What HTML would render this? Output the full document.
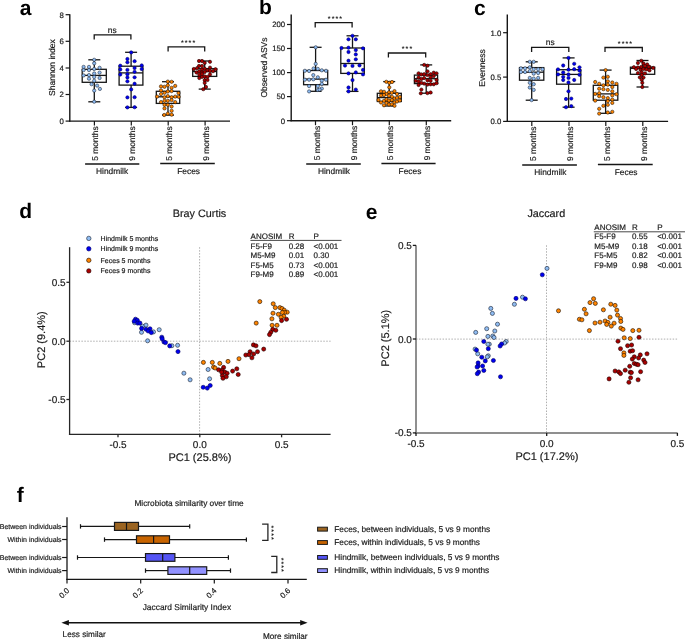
<!DOCTYPE html>
<html><head><meta charset="utf-8"><style>
html,body{margin:0;padding:0;background:#fff;}
body{width:685px;height:639px;overflow:hidden;}
svg{display:block;font-family:"Liberation Sans",sans-serif;will-change:transform;text-rendering:geometricPrecision;}
text{stroke:#1a1a1a;stroke-width:0.18px;stroke-linejoin:bevel;}
</style></head><body>
<svg width="685" height="639" viewBox="0 0 685 639">
<rect width="685" height="639" fill="#fff"/>
<line x1="69.8" y1="14.3" x2="69.8" y2="121.75" stroke="#161616" stroke-width="1.4" />
<line x1="69.15" y1="121.1" x2="230" y2="121.1" stroke="#161616" stroke-width="1.4" />
<line x1="65.6" y1="14.7" x2="69.8" y2="14.7" stroke="#161616" stroke-width="1.2" />
<text x="63.8" y="17.5" font-size="7.8" text-anchor="end" font-weight="normal" fill="#1a1a1a" >8</text>
<line x1="65.6" y1="41.3" x2="69.8" y2="41.3" stroke="#161616" stroke-width="1.2" />
<text x="63.8" y="44.1" font-size="7.8" text-anchor="end" font-weight="normal" fill="#1a1a1a" >6</text>
<line x1="65.6" y1="68" x2="69.8" y2="68" stroke="#161616" stroke-width="1.2" />
<text x="63.8" y="70.8" font-size="7.8" text-anchor="end" font-weight="normal" fill="#1a1a1a" >4</text>
<line x1="65.6" y1="94.5" x2="69.8" y2="94.5" stroke="#161616" stroke-width="1.2" />
<text x="63.8" y="97.3" font-size="7.8" text-anchor="end" font-weight="normal" fill="#1a1a1a" >2</text>
<line x1="65.6" y1="121.1" x2="69.8" y2="121.1" stroke="#161616" stroke-width="1.2" />
<text x="63.8" y="123.9" font-size="7.8" text-anchor="end" font-weight="normal" fill="#1a1a1a" >0</text>
<line x1="94.4" y1="121.1" x2="94.4" y2="125.6" stroke="#161616" stroke-width="1.2" />
<text x="98.5" y="126.3" font-size="8.4" text-anchor="end" font-weight="normal" fill="#1a1a1a" transform="rotate(-90 98.5 126.3)" >5 months</text>
<line x1="131.3" y1="121.1" x2="131.3" y2="125.6" stroke="#161616" stroke-width="1.2" />
<text x="135.4" y="126.3" font-size="8.4" text-anchor="end" font-weight="normal" fill="#1a1a1a" transform="rotate(-90 135.4 126.3)" >9 months</text>
<line x1="168.2" y1="121.1" x2="168.2" y2="125.6" stroke="#161616" stroke-width="1.2" />
<text x="172.3" y="126.3" font-size="8.4" text-anchor="end" font-weight="normal" fill="#1a1a1a" transform="rotate(-90 172.3 126.3)" >5 months</text>
<line x1="205.1" y1="121.1" x2="205.1" y2="125.6" stroke="#161616" stroke-width="1.2" />
<text x="209.2" y="126.3" font-size="8.4" text-anchor="end" font-weight="normal" fill="#1a1a1a" transform="rotate(-90 209.2 126.3)" >9 months</text>
<text x="54.6" y="67.6" font-size="8.5" text-anchor="middle" font-weight="normal" fill="#1a1a1a" transform="rotate(-90 54.6 67.6)" >Shannon index</text>
<line x1="85.1" y1="164.0" x2="139.3" y2="164.0" stroke="#161616" stroke-width="1.4" />
<text x="112.1" y="174.2" font-size="8.4" text-anchor="middle" font-weight="normal" fill="#1a1a1a" >Hindmilk</text>
<line x1="160.2" y1="163.5" x2="214.8" y2="163.5" stroke="#161616" stroke-width="1.4" />
<text x="188.6" y="174.2" font-size="8.4" text-anchor="middle" font-weight="normal" fill="#1a1a1a" >Feces</text>
<path d="M94.2 39.6 V34.8 H130.9 V39.6" fill="none" stroke="#161616" stroke-width="1.3"/>
<text x="112.2" y="32.5" font-size="8.4" text-anchor="middle" font-weight="normal" fill="#1a1a1a" >ns</text>
<path d="M168.1 51.5 V46.8 H204.7 V51.5" fill="none" stroke="#161616" stroke-width="1.3"/>
<text x="188.6" y="45.05" font-size="7" text-anchor="middle" font-weight="bold" fill="#1a1a1a" letter-spacing="1.1" style="stroke:none">****</text>
<line x1="94.3" y1="59.8" x2="94.3" y2="69.3" stroke="#161616" stroke-width="1.3" />
<line x1="94.3" y1="82.3" x2="94.3" y2="101.8" stroke="#161616" stroke-width="1.3" />
<line x1="88.3" y1="59.8" x2="100.3" y2="59.8" stroke="#161616" stroke-width="1.3" />
<line x1="88.3" y1="101.8" x2="100.3" y2="101.8" stroke="#161616" stroke-width="1.3" />
<rect x="82.2" y="69.3" width="24.1" height="13.0" fill="none" stroke="#161616" stroke-width="1.3"/>
<line x1="82.2" y1="75.4" x2="106.3" y2="75.4" stroke="#161616" stroke-width="1.3" />
<circle cx="94.2" cy="59.8" r="1.65" fill="#8fbcf2" stroke="#1a2233" stroke-width="0.55"/>
<circle cx="94.2" cy="63.3" r="1.65" fill="#8fbcf2" stroke="#1a2233" stroke-width="0.55"/>
<circle cx="83.6" cy="66.9" r="1.65" fill="#8fbcf2" stroke="#1a2233" stroke-width="0.55"/>
<circle cx="89" cy="66.9" r="1.65" fill="#8fbcf2" stroke="#1a2233" stroke-width="0.55"/>
<circle cx="99.6" cy="67.8" r="1.65" fill="#8fbcf2" stroke="#1a2233" stroke-width="0.55"/>
<circle cx="83.6" cy="70.1" r="1.65" fill="#8fbcf2" stroke="#1a2233" stroke-width="0.55"/>
<circle cx="89" cy="70.1" r="1.65" fill="#8fbcf2" stroke="#1a2233" stroke-width="0.55"/>
<circle cx="94.2" cy="69" r="1.65" fill="#8fbcf2" stroke="#1a2233" stroke-width="0.55"/>
<circle cx="99.6" cy="72.6" r="1.65" fill="#8fbcf2" stroke="#1a2233" stroke-width="0.55"/>
<circle cx="83.6" cy="75.4" r="1.65" fill="#8fbcf2" stroke="#1a2233" stroke-width="0.55"/>
<circle cx="89" cy="75.1" r="1.65" fill="#8fbcf2" stroke="#1a2233" stroke-width="0.55"/>
<circle cx="94.2" cy="73.5" r="1.65" fill="#8fbcf2" stroke="#1a2233" stroke-width="0.55"/>
<circle cx="94.2" cy="77" r="1.65" fill="#8fbcf2" stroke="#1a2233" stroke-width="0.55"/>
<circle cx="99.6" cy="78" r="1.65" fill="#8fbcf2" stroke="#1a2233" stroke-width="0.55"/>
<circle cx="89" cy="78.7" r="1.65" fill="#8fbcf2" stroke="#1a2233" stroke-width="0.55"/>
<circle cx="94.2" cy="80.8" r="1.65" fill="#8fbcf2" stroke="#1a2233" stroke-width="0.55"/>
<circle cx="91.6" cy="84.2" r="1.65" fill="#8fbcf2" stroke="#1a2233" stroke-width="0.55"/>
<circle cx="97.1" cy="85.6" r="1.65" fill="#8fbcf2" stroke="#1a2233" stroke-width="0.55"/>
<circle cx="99.9" cy="88.9" r="1.65" fill="#8fbcf2" stroke="#1a2233" stroke-width="0.55"/>
<circle cx="94.2" cy="90.6" r="1.65" fill="#8fbcf2" stroke="#1a2233" stroke-width="0.55"/>
<circle cx="94.2" cy="101.7" r="1.65" fill="#8fbcf2" stroke="#1a2233" stroke-width="0.55"/>
<line x1="131.1" y1="52.3" x2="131.1" y2="66.2" stroke="#161616" stroke-width="1.3" />
<line x1="131.1" y1="85.1" x2="131.1" y2="107.4" stroke="#161616" stroke-width="1.3" />
<line x1="125.1" y1="52.3" x2="137.1" y2="52.3" stroke="#161616" stroke-width="1.3" />
<line x1="125.1" y1="107.4" x2="137.1" y2="107.4" stroke="#161616" stroke-width="1.3" />
<rect x="119.1" y="66.2" width="23.8" height="18.9" fill="none" stroke="#161616" stroke-width="1.3"/>
<line x1="119.1" y1="72.9" x2="142.9" y2="72.9" stroke="#161616" stroke-width="1.3" />
<circle cx="131.2" cy="52.4" r="1.65" fill="#0000f0" stroke="#000060" stroke-width="0.55"/>
<circle cx="127.4" cy="59" r="1.65" fill="#0000f0" stroke="#000060" stroke-width="0.55"/>
<circle cx="127.4" cy="62.3" r="1.65" fill="#0000f0" stroke="#000060" stroke-width="0.55"/>
<circle cx="134.6" cy="61.2" r="1.65" fill="#0000f0" stroke="#000060" stroke-width="0.55"/>
<circle cx="120.3" cy="65.7" r="1.65" fill="#0000f0" stroke="#000060" stroke-width="0.55"/>
<circle cx="141.7" cy="65.4" r="1.65" fill="#0000f0" stroke="#000060" stroke-width="0.55"/>
<circle cx="120.3" cy="69.5" r="1.65" fill="#0000f0" stroke="#000060" stroke-width="0.55"/>
<circle cx="127.4" cy="69.9" r="1.65" fill="#0000f0" stroke="#000060" stroke-width="0.55"/>
<circle cx="134.6" cy="68" r="1.65" fill="#0000f0" stroke="#000060" stroke-width="0.55"/>
<circle cx="141.7" cy="69" r="1.65" fill="#0000f0" stroke="#000060" stroke-width="0.55"/>
<circle cx="134.6" cy="71.8" r="1.65" fill="#0000f0" stroke="#000060" stroke-width="0.55"/>
<circle cx="120.3" cy="74.5" r="1.65" fill="#0000f0" stroke="#000060" stroke-width="0.55"/>
<circle cx="127.4" cy="74.2" r="1.65" fill="#0000f0" stroke="#000060" stroke-width="0.55"/>
<circle cx="127.4" cy="77.5" r="1.65" fill="#0000f0" stroke="#000060" stroke-width="0.55"/>
<circle cx="134.6" cy="77.3" r="1.65" fill="#0000f0" stroke="#000060" stroke-width="0.55"/>
<circle cx="127.4" cy="81.3" r="1.65" fill="#0000f0" stroke="#000060" stroke-width="0.55"/>
<circle cx="134.6" cy="83.7" r="1.65" fill="#0000f0" stroke="#000060" stroke-width="0.55"/>
<circle cx="131.2" cy="89.4" r="1.65" fill="#0000f0" stroke="#000060" stroke-width="0.55"/>
<circle cx="127.4" cy="97.4" r="1.65" fill="#0000f0" stroke="#000060" stroke-width="0.55"/>
<circle cx="134.6" cy="97.2" r="1.65" fill="#0000f0" stroke="#000060" stroke-width="0.55"/>
<circle cx="127.4" cy="107.4" r="1.65" fill="#0000f0" stroke="#000060" stroke-width="0.55"/>
<circle cx="134.6" cy="107.2" r="1.65" fill="#0000f0" stroke="#000060" stroke-width="0.55"/>
<line x1="168" y1="81.7" x2="168" y2="91.3" stroke="#161616" stroke-width="1.3" />
<line x1="168" y1="103.4" x2="168" y2="115.1" stroke="#161616" stroke-width="1.3" />
<line x1="162" y1="81.7" x2="174" y2="81.7" stroke="#161616" stroke-width="1.3" />
<line x1="162" y1="115.1" x2="174" y2="115.1" stroke="#161616" stroke-width="1.3" />
<rect x="156.3" y="91.3" width="23.4" height="12.1" fill="none" stroke="#161616" stroke-width="1.3"/>
<line x1="156.3" y1="96.8" x2="179.7" y2="96.8" stroke="#161616" stroke-width="1.3" />
<circle cx="167.8" cy="81.6" r="1.65" fill="#ff8400" stroke="#1a0c00" stroke-width="0.55"/>
<circle cx="171.6" cy="81.8" r="1.65" fill="#ff8400" stroke="#1a0c00" stroke-width="0.55"/>
<circle cx="161" cy="86.4" r="1.65" fill="#ff8400" stroke="#1a0c00" stroke-width="0.55"/>
<circle cx="164.5" cy="86.8" r="1.65" fill="#ff8400" stroke="#1a0c00" stroke-width="0.55"/>
<circle cx="167.8" cy="85.3" r="1.65" fill="#ff8400" stroke="#1a0c00" stroke-width="0.55"/>
<circle cx="175.2" cy="85.9" r="1.65" fill="#ff8400" stroke="#1a0c00" stroke-width="0.55"/>
<circle cx="171.6" cy="87.8" r="1.65" fill="#ff8400" stroke="#1a0c00" stroke-width="0.55"/>
<circle cx="161" cy="90.4" r="1.65" fill="#ff8400" stroke="#1a0c00" stroke-width="0.55"/>
<circle cx="167.8" cy="91.5" r="1.65" fill="#ff8400" stroke="#1a0c00" stroke-width="0.55"/>
<circle cx="171.6" cy="91.1" r="1.65" fill="#ff8400" stroke="#1a0c00" stroke-width="0.55"/>
<circle cx="161" cy="94.1" r="1.65" fill="#ff8400" stroke="#1a0c00" stroke-width="0.55"/>
<circle cx="164.5" cy="92.8" r="1.65" fill="#ff8400" stroke="#1a0c00" stroke-width="0.55"/>
<circle cx="178.5" cy="93.1" r="1.65" fill="#ff8400" stroke="#1a0c00" stroke-width="0.55"/>
<circle cx="157.1" cy="96.6" r="1.65" fill="#ff8400" stroke="#1a0c00" stroke-width="0.55"/>
<circle cx="164.5" cy="97.2" r="1.65" fill="#ff8400" stroke="#1a0c00" stroke-width="0.55"/>
<circle cx="167.8" cy="96.1" r="1.65" fill="#ff8400" stroke="#1a0c00" stroke-width="0.55"/>
<circle cx="171.6" cy="97.2" r="1.65" fill="#ff8400" stroke="#1a0c00" stroke-width="0.55"/>
<circle cx="175.2" cy="96.6" r="1.65" fill="#ff8400" stroke="#1a0c00" stroke-width="0.55"/>
<circle cx="178.7" cy="96.8" r="1.65" fill="#ff8400" stroke="#1a0c00" stroke-width="0.55"/>
<circle cx="161" cy="102.1" r="1.65" fill="#ff8400" stroke="#1a0c00" stroke-width="0.55"/>
<circle cx="164.5" cy="100.8" r="1.65" fill="#ff8400" stroke="#1a0c00" stroke-width="0.55"/>
<circle cx="167.8" cy="100.8" r="1.65" fill="#ff8400" stroke="#1a0c00" stroke-width="0.55"/>
<circle cx="171.6" cy="100.1" r="1.65" fill="#ff8400" stroke="#1a0c00" stroke-width="0.55"/>
<circle cx="175.2" cy="102.1" r="1.65" fill="#ff8400" stroke="#1a0c00" stroke-width="0.55"/>
<circle cx="164.5" cy="104.8" r="1.65" fill="#ff8400" stroke="#1a0c00" stroke-width="0.55"/>
<circle cx="167.8" cy="104.8" r="1.65" fill="#ff8400" stroke="#1a0c00" stroke-width="0.55"/>
<circle cx="171.6" cy="106.5" r="1.65" fill="#ff8400" stroke="#1a0c00" stroke-width="0.55"/>
<circle cx="164.5" cy="108.4" r="1.65" fill="#ff8400" stroke="#1a0c00" stroke-width="0.55"/>
<circle cx="171.6" cy="110.8" r="1.65" fill="#ff8400" stroke="#1a0c00" stroke-width="0.55"/>
<circle cx="164.2" cy="115" r="1.65" fill="#ff8400" stroke="#1a0c00" stroke-width="0.55"/>
<circle cx="167.8" cy="113.6" r="1.65" fill="#ff8400" stroke="#1a0c00" stroke-width="0.55"/>
<circle cx="171.6" cy="114.7" r="1.65" fill="#ff8400" stroke="#1a0c00" stroke-width="0.55"/>
<line x1="204.7" y1="61" x2="204.7" y2="68.7" stroke="#161616" stroke-width="1.3" />
<line x1="204.7" y1="76.4" x2="204.7" y2="89.1" stroke="#161616" stroke-width="1.3" />
<line x1="198.7" y1="61" x2="210.7" y2="61" stroke="#161616" stroke-width="1.3" />
<line x1="198.7" y1="89.1" x2="210.7" y2="89.1" stroke="#161616" stroke-width="1.3" />
<rect x="192.7" y="68.7" width="24.0" height="7.7" fill="none" stroke="#161616" stroke-width="1.3"/>
<line x1="192.7" y1="71.5" x2="216.7" y2="71.5" stroke="#161616" stroke-width="1.3" />
<circle cx="199" cy="61" r="1.65" fill="#aa0000" stroke="#1a0000" stroke-width="0.55"/>
<circle cx="202" cy="61" r="1.65" fill="#aa0000" stroke="#1a0000" stroke-width="0.55"/>
<circle cx="204.7" cy="62.9" r="1.65" fill="#aa0000" stroke="#1a0000" stroke-width="0.55"/>
<circle cx="210" cy="61.8" r="1.65" fill="#aa0000" stroke="#1a0000" stroke-width="0.55"/>
<circle cx="199" cy="66" r="1.65" fill="#aa0000" stroke="#1a0000" stroke-width="0.55"/>
<circle cx="202" cy="66" r="1.65" fill="#aa0000" stroke="#1a0000" stroke-width="0.55"/>
<circle cx="193.8" cy="69" r="1.65" fill="#aa0000" stroke="#1a0000" stroke-width="0.55"/>
<circle cx="197.1" cy="68.1" r="1.65" fill="#aa0000" stroke="#1a0000" stroke-width="0.55"/>
<circle cx="202" cy="69.5" r="1.65" fill="#aa0000" stroke="#1a0000" stroke-width="0.55"/>
<circle cx="204.7" cy="68.7" r="1.65" fill="#aa0000" stroke="#1a0000" stroke-width="0.55"/>
<circle cx="210" cy="67.6" r="1.65" fill="#aa0000" stroke="#1a0000" stroke-width="0.55"/>
<circle cx="215.5" cy="69.2" r="1.65" fill="#aa0000" stroke="#1a0000" stroke-width="0.55"/>
<circle cx="196.5" cy="72.5" r="1.65" fill="#aa0000" stroke="#1a0000" stroke-width="0.55"/>
<circle cx="199.3" cy="71.4" r="1.65" fill="#aa0000" stroke="#1a0000" stroke-width="0.55"/>
<circle cx="202" cy="72.5" r="1.65" fill="#aa0000" stroke="#1a0000" stroke-width="0.55"/>
<circle cx="204.7" cy="72" r="1.65" fill="#aa0000" stroke="#1a0000" stroke-width="0.55"/>
<circle cx="207.5" cy="70.3" r="1.65" fill="#aa0000" stroke="#1a0000" stroke-width="0.55"/>
<circle cx="210" cy="70.9" r="1.65" fill="#aa0000" stroke="#1a0000" stroke-width="0.55"/>
<circle cx="213" cy="71.2" r="1.65" fill="#aa0000" stroke="#1a0000" stroke-width="0.55"/>
<circle cx="199.3" cy="74.7" r="1.65" fill="#aa0000" stroke="#1a0000" stroke-width="0.55"/>
<circle cx="202" cy="74.2" r="1.65" fill="#aa0000" stroke="#1a0000" stroke-width="0.55"/>
<circle cx="210" cy="74.5" r="1.65" fill="#aa0000" stroke="#1a0000" stroke-width="0.55"/>
<circle cx="199.3" cy="78" r="1.65" fill="#aa0000" stroke="#1a0000" stroke-width="0.55"/>
<circle cx="202" cy="76.9" r="1.65" fill="#aa0000" stroke="#1a0000" stroke-width="0.55"/>
<circle cx="204.7" cy="76.4" r="1.65" fill="#aa0000" stroke="#1a0000" stroke-width="0.55"/>
<circle cx="207.5" cy="76.9" r="1.65" fill="#aa0000" stroke="#1a0000" stroke-width="0.55"/>
<circle cx="204.7" cy="80.2" r="1.65" fill="#aa0000" stroke="#1a0000" stroke-width="0.55"/>
<circle cx="207.5" cy="80" r="1.65" fill="#aa0000" stroke="#1a0000" stroke-width="0.55"/>
<circle cx="204.7" cy="82.9" r="1.65" fill="#aa0000" stroke="#1a0000" stroke-width="0.55"/>
<circle cx="206" cy="87" r="1.65" fill="#aa0000" stroke="#1a0000" stroke-width="0.55"/>
<circle cx="203.3" cy="89.2" r="1.65" fill="#aa0000" stroke="#1a0000" stroke-width="0.55"/>
<text x="19.7" y="14.5" font-size="21" text-anchor="start" font-weight="bold" fill="#000" style="stroke:none">a</text>
<line x1="291.2" y1="14.4" x2="291.2" y2="121.35" stroke="#161616" stroke-width="1.4" />
<line x1="290.55" y1="120.7" x2="451.2" y2="120.7" stroke="#161616" stroke-width="1.4" />
<line x1="287.0" y1="24.5" x2="291.2" y2="24.5" stroke="#161616" stroke-width="1.2" />
<text x="285.2" y="27.3" font-size="7.8" text-anchor="end" font-weight="normal" fill="#1a1a1a" >200</text>
<line x1="287.0" y1="48.5" x2="291.2" y2="48.5" stroke="#161616" stroke-width="1.2" />
<text x="285.2" y="51.3" font-size="7.8" text-anchor="end" font-weight="normal" fill="#1a1a1a" >150</text>
<line x1="287.0" y1="72.6" x2="291.2" y2="72.6" stroke="#161616" stroke-width="1.2" />
<text x="285.2" y="75.4" font-size="7.8" text-anchor="end" font-weight="normal" fill="#1a1a1a" >100</text>
<line x1="287.0" y1="96.6" x2="291.2" y2="96.6" stroke="#161616" stroke-width="1.2" />
<text x="285.2" y="99.4" font-size="7.8" text-anchor="end" font-weight="normal" fill="#1a1a1a" >50</text>
<line x1="287.0" y1="120.7" x2="291.2" y2="120.7" stroke="#161616" stroke-width="1.2" />
<text x="285.2" y="123.5" font-size="7.8" text-anchor="end" font-weight="normal" fill="#1a1a1a" >0</text>
<line x1="315.5" y1="120.7" x2="315.5" y2="125.2" stroke="#161616" stroke-width="1.2" />
<text x="319.6" y="125.9" font-size="8.4" text-anchor="end" font-weight="normal" fill="#1a1a1a" transform="rotate(-90 319.6 125.9)" >5 months</text>
<line x1="352.5" y1="120.7" x2="352.5" y2="125.2" stroke="#161616" stroke-width="1.2" />
<text x="356.6" y="125.9" font-size="8.4" text-anchor="end" font-weight="normal" fill="#1a1a1a" transform="rotate(-90 356.6 125.9)" >9 months</text>
<line x1="389.3" y1="120.7" x2="389.3" y2="125.2" stroke="#161616" stroke-width="1.2" />
<text x="393.4" y="125.9" font-size="8.4" text-anchor="end" font-weight="normal" fill="#1a1a1a" transform="rotate(-90 393.4 125.9)" >5 months</text>
<line x1="426.3" y1="120.7" x2="426.3" y2="125.2" stroke="#161616" stroke-width="1.2" />
<text x="430.4" y="125.9" font-size="8.4" text-anchor="end" font-weight="normal" fill="#1a1a1a" transform="rotate(-90 430.4 125.9)" >9 months</text>
<text x="266.9" y="67.5" font-size="8.5" text-anchor="middle" font-weight="normal" fill="#1a1a1a" transform="rotate(-90 266.9 67.5)" >Observed ASVs</text>
<line x1="306.2" y1="164.0" x2="360.8" y2="164.0" stroke="#161616" stroke-width="1.4" />
<text x="334" y="173.8" font-size="8.4" text-anchor="middle" font-weight="normal" fill="#1a1a1a" >Hindmilk</text>
<line x1="381.4" y1="163.5" x2="435.6" y2="163.5" stroke="#161616" stroke-width="1.4" />
<text x="410" y="173.8" font-size="8.4" text-anchor="middle" font-weight="normal" fill="#1a1a1a" >Feces</text>
<path d="M315.2 27.4 V22.7 H352.1 V27.4" fill="none" stroke="#161616" stroke-width="1.3"/>
<text x="335.5" y="21.2" font-size="7" text-anchor="middle" font-weight="bold" fill="#1a1a1a" letter-spacing="1.1" style="stroke:none">****</text>
<path d="M388.4 57.6 V53 H425.7 V57.6" fill="none" stroke="#161616" stroke-width="1.3"/>
<text x="407.5" y="51.2" font-size="7" text-anchor="middle" font-weight="bold" fill="#1a1a1a" letter-spacing="1.1" style="stroke:none">***</text>
<line x1="315.6" y1="47.3" x2="315.6" y2="70.5" stroke="#161616" stroke-width="1.3" />
<line x1="315.6" y1="84.7" x2="315.6" y2="91.3" stroke="#161616" stroke-width="1.3" />
<line x1="309.6" y1="47.3" x2="321.6" y2="47.3" stroke="#161616" stroke-width="1.3" />
<line x1="309.6" y1="91.3" x2="321.6" y2="91.3" stroke="#161616" stroke-width="1.3" />
<rect x="303.6" y="70.5" width="24.1" height="14.2" fill="none" stroke="#161616" stroke-width="1.3"/>
<line x1="303.6" y1="79.1" x2="327.7" y2="79.1" stroke="#161616" stroke-width="1.3" />
<circle cx="315.7" cy="47.3" r="1.65" fill="#8fbcf2" stroke="#1a2233" stroke-width="0.55"/>
<circle cx="315.7" cy="63.9" r="1.65" fill="#8fbcf2" stroke="#1a2233" stroke-width="0.55"/>
<circle cx="313.6" cy="68.5" r="1.65" fill="#8fbcf2" stroke="#1a2233" stroke-width="0.55"/>
<circle cx="317.8" cy="68.9" r="1.65" fill="#8fbcf2" stroke="#1a2233" stroke-width="0.55"/>
<circle cx="321.8" cy="70.3" r="1.65" fill="#8fbcf2" stroke="#1a2233" stroke-width="0.55"/>
<circle cx="326" cy="70.8" r="1.65" fill="#8fbcf2" stroke="#1a2233" stroke-width="0.55"/>
<circle cx="304.9" cy="70.8" r="1.65" fill="#8fbcf2" stroke="#1a2233" stroke-width="0.55"/>
<circle cx="309.1" cy="71" r="1.65" fill="#8fbcf2" stroke="#1a2233" stroke-width="0.55"/>
<circle cx="313.3" cy="75.1" r="1.65" fill="#8fbcf2" stroke="#1a2233" stroke-width="0.55"/>
<circle cx="317.8" cy="77.3" r="1.65" fill="#8fbcf2" stroke="#1a2233" stroke-width="0.55"/>
<circle cx="304.9" cy="79.7" r="1.65" fill="#8fbcf2" stroke="#1a2233" stroke-width="0.55"/>
<circle cx="309.1" cy="79.7" r="1.65" fill="#8fbcf2" stroke="#1a2233" stroke-width="0.55"/>
<circle cx="313.3" cy="79.3" r="1.65" fill="#8fbcf2" stroke="#1a2233" stroke-width="0.55"/>
<circle cx="321.8" cy="80.7" r="1.65" fill="#8fbcf2" stroke="#1a2233" stroke-width="0.55"/>
<circle cx="326" cy="79.7" r="1.65" fill="#8fbcf2" stroke="#1a2233" stroke-width="0.55"/>
<circle cx="321.8" cy="83.9" r="1.65" fill="#8fbcf2" stroke="#1a2233" stroke-width="0.55"/>
<circle cx="309.1" cy="86.1" r="1.65" fill="#8fbcf2" stroke="#1a2233" stroke-width="0.55"/>
<circle cx="317.8" cy="86.1" r="1.65" fill="#8fbcf2" stroke="#1a2233" stroke-width="0.55"/>
<circle cx="321.8" cy="88.6" r="1.65" fill="#8fbcf2" stroke="#1a2233" stroke-width="0.55"/>
<circle cx="317.8" cy="90" r="1.65" fill="#8fbcf2" stroke="#1a2233" stroke-width="0.55"/>
<circle cx="309.1" cy="91.4" r="1.65" fill="#8fbcf2" stroke="#1a2233" stroke-width="0.55"/>
<circle cx="319.6" cy="89.6" r="1.65" fill="#8fbcf2" stroke="#1a2233" stroke-width="0.55"/>
<line x1="352.5" y1="35.8" x2="352.5" y2="48" stroke="#161616" stroke-width="1.3" />
<line x1="352.5" y1="73.4" x2="352.5" y2="91.4" stroke="#161616" stroke-width="1.3" />
<line x1="346.5" y1="35.8" x2="358.5" y2="35.8" stroke="#161616" stroke-width="1.3" />
<line x1="346.5" y1="91.4" x2="358.5" y2="91.4" stroke="#161616" stroke-width="1.3" />
<rect x="340.8" y="48" width="23.5" height="25.4" fill="none" stroke="#161616" stroke-width="1.3"/>
<line x1="340.8" y1="63.5" x2="364.3" y2="63.5" stroke="#161616" stroke-width="1.3" />
<circle cx="352.5" cy="35.8" r="1.65" fill="#0000f0" stroke="#000060" stroke-width="0.55"/>
<circle cx="348.5" cy="39.3" r="1.65" fill="#0000f0" stroke="#000060" stroke-width="0.55"/>
<circle cx="355.8" cy="39.3" r="1.65" fill="#0000f0" stroke="#000060" stroke-width="0.55"/>
<circle cx="341.5" cy="48" r="1.65" fill="#0000f0" stroke="#000060" stroke-width="0.55"/>
<circle cx="348.5" cy="47.7" r="1.65" fill="#0000f0" stroke="#000060" stroke-width="0.55"/>
<circle cx="363" cy="48.3" r="1.65" fill="#0000f0" stroke="#000060" stroke-width="0.55"/>
<circle cx="348.5" cy="52" r="1.65" fill="#0000f0" stroke="#000060" stroke-width="0.55"/>
<circle cx="355.8" cy="50.1" r="1.65" fill="#0000f0" stroke="#000060" stroke-width="0.55"/>
<circle cx="355.8" cy="54.4" r="1.65" fill="#0000f0" stroke="#000060" stroke-width="0.55"/>
<circle cx="348.5" cy="60.7" r="1.65" fill="#0000f0" stroke="#000060" stroke-width="0.55"/>
<circle cx="355.8" cy="59.3" r="1.65" fill="#0000f0" stroke="#000060" stroke-width="0.55"/>
<circle cx="345" cy="65.6" r="1.65" fill="#0000f0" stroke="#000060" stroke-width="0.55"/>
<circle cx="352.5" cy="65.9" r="1.65" fill="#0000f0" stroke="#000060" stroke-width="0.55"/>
<circle cx="359.5" cy="65.4" r="1.65" fill="#0000f0" stroke="#000060" stroke-width="0.55"/>
<circle cx="363" cy="69.9" r="1.65" fill="#0000f0" stroke="#000060" stroke-width="0.55"/>
<circle cx="348.5" cy="73.4" r="1.65" fill="#0000f0" stroke="#000060" stroke-width="0.55"/>
<circle cx="355.8" cy="72.4" r="1.65" fill="#0000f0" stroke="#000060" stroke-width="0.55"/>
<circle cx="363" cy="74.4" r="1.65" fill="#0000f0" stroke="#000060" stroke-width="0.55"/>
<circle cx="352.5" cy="80.1" r="1.65" fill="#0000f0" stroke="#000060" stroke-width="0.55"/>
<circle cx="348.5" cy="87.5" r="1.65" fill="#0000f0" stroke="#000060" stroke-width="0.55"/>
<circle cx="355.8" cy="89.6" r="1.65" fill="#0000f0" stroke="#000060" stroke-width="0.55"/>
<circle cx="348.5" cy="91.4" r="1.65" fill="#0000f0" stroke="#000060" stroke-width="0.55"/>
<line x1="389.2" y1="81.6" x2="389.2" y2="93.3" stroke="#161616" stroke-width="1.3" />
<line x1="389.2" y1="101.5" x2="389.2" y2="106" stroke="#161616" stroke-width="1.3" />
<line x1="383.2" y1="81.6" x2="395.2" y2="81.6" stroke="#161616" stroke-width="1.3" />
<line x1="383.2" y1="106" x2="395.2" y2="106" stroke="#161616" stroke-width="1.3" />
<rect x="377.3" y="93.3" width="24.0" height="8.2" fill="none" stroke="#161616" stroke-width="1.3"/>
<line x1="377.3" y1="97.6" x2="401.3" y2="97.6" stroke="#161616" stroke-width="1.3" />
<circle cx="386.3" cy="81.8" r="1.65" fill="#ff8400" stroke="#1a0c00" stroke-width="0.55"/>
<circle cx="389.3" cy="82.8" r="1.65" fill="#ff8400" stroke="#1a0c00" stroke-width="0.55"/>
<circle cx="392" cy="82" r="1.65" fill="#ff8400" stroke="#1a0c00" stroke-width="0.55"/>
<circle cx="389.3" cy="87.3" r="1.65" fill="#ff8400" stroke="#1a0c00" stroke-width="0.55"/>
<circle cx="381" cy="91.3" r="1.65" fill="#ff8400" stroke="#1a0c00" stroke-width="0.55"/>
<circle cx="384" cy="91.8" r="1.65" fill="#ff8400" stroke="#1a0c00" stroke-width="0.55"/>
<circle cx="389" cy="92.3" r="1.65" fill="#ff8400" stroke="#1a0c00" stroke-width="0.55"/>
<circle cx="391.8" cy="92.8" r="1.65" fill="#ff8400" stroke="#1a0c00" stroke-width="0.55"/>
<circle cx="394.5" cy="91.1" r="1.65" fill="#ff8400" stroke="#1a0c00" stroke-width="0.55"/>
<circle cx="397" cy="94" r="1.65" fill="#ff8400" stroke="#1a0c00" stroke-width="0.55"/>
<circle cx="386.5" cy="94" r="1.65" fill="#ff8400" stroke="#1a0c00" stroke-width="0.55"/>
<circle cx="381" cy="95.5" r="1.65" fill="#ff8400" stroke="#1a0c00" stroke-width="0.55"/>
<circle cx="384" cy="95" r="1.65" fill="#ff8400" stroke="#1a0c00" stroke-width="0.55"/>
<circle cx="389" cy="95.8" r="1.65" fill="#ff8400" stroke="#1a0c00" stroke-width="0.55"/>
<circle cx="392" cy="96.8" r="1.65" fill="#ff8400" stroke="#1a0c00" stroke-width="0.55"/>
<circle cx="394.5" cy="98.5" r="1.65" fill="#ff8400" stroke="#1a0c00" stroke-width="0.55"/>
<circle cx="397" cy="97.8" r="1.65" fill="#ff8400" stroke="#1a0c00" stroke-width="0.55"/>
<circle cx="399.8" cy="97" r="1.65" fill="#ff8400" stroke="#1a0c00" stroke-width="0.55"/>
<circle cx="378.5" cy="100" r="1.65" fill="#ff8400" stroke="#1a0c00" stroke-width="0.55"/>
<circle cx="381" cy="102.5" r="1.65" fill="#ff8400" stroke="#1a0c00" stroke-width="0.55"/>
<circle cx="384" cy="100.8" r="1.65" fill="#ff8400" stroke="#1a0c00" stroke-width="0.55"/>
<circle cx="386.5" cy="99.3" r="1.65" fill="#ff8400" stroke="#1a0c00" stroke-width="0.55"/>
<circle cx="389" cy="100.5" r="1.65" fill="#ff8400" stroke="#1a0c00" stroke-width="0.55"/>
<circle cx="391.8" cy="100" r="1.65" fill="#ff8400" stroke="#1a0c00" stroke-width="0.55"/>
<circle cx="394.5" cy="102.3" r="1.65" fill="#ff8400" stroke="#1a0c00" stroke-width="0.55"/>
<circle cx="397" cy="101.5" r="1.65" fill="#ff8400" stroke="#1a0c00" stroke-width="0.55"/>
<circle cx="399.8" cy="100.5" r="1.65" fill="#ff8400" stroke="#1a0c00" stroke-width="0.55"/>
<circle cx="384" cy="105.3" r="1.65" fill="#ff8400" stroke="#1a0c00" stroke-width="0.55"/>
<circle cx="386.5" cy="103" r="1.65" fill="#ff8400" stroke="#1a0c00" stroke-width="0.55"/>
<circle cx="389" cy="104.5" r="1.65" fill="#ff8400" stroke="#1a0c00" stroke-width="0.55"/>
<circle cx="391.8" cy="104.3" r="1.65" fill="#ff8400" stroke="#1a0c00" stroke-width="0.55"/>
<circle cx="394.5" cy="105.8" r="1.65" fill="#ff8400" stroke="#1a0c00" stroke-width="0.55"/>
<line x1="426.2" y1="64.9" x2="426.2" y2="75.1" stroke="#161616" stroke-width="1.3" />
<line x1="426.2" y1="83.6" x2="426.2" y2="93.2" stroke="#161616" stroke-width="1.3" />
<line x1="420.2" y1="64.9" x2="432.2" y2="64.9" stroke="#161616" stroke-width="1.3" />
<line x1="420.2" y1="93.2" x2="432.2" y2="93.2" stroke="#161616" stroke-width="1.3" />
<rect x="414.4" y="75.1" width="23.2" height="8.5" fill="none" stroke="#161616" stroke-width="1.3"/>
<line x1="414.4" y1="78.7" x2="437.6" y2="78.7" stroke="#161616" stroke-width="1.3" />
<circle cx="424.2" cy="64.9" r="1.65" fill="#aa0000" stroke="#1a0000" stroke-width="0.55"/>
<circle cx="427.5" cy="65.7" r="1.65" fill="#aa0000" stroke="#1a0000" stroke-width="0.55"/>
<circle cx="427.5" cy="71.3" r="1.65" fill="#aa0000" stroke="#1a0000" stroke-width="0.55"/>
<circle cx="418.6" cy="73.3" r="1.65" fill="#aa0000" stroke="#1a0000" stroke-width="0.55"/>
<circle cx="421.4" cy="74.4" r="1.65" fill="#aa0000" stroke="#1a0000" stroke-width="0.55"/>
<circle cx="424.2" cy="74.2" r="1.65" fill="#aa0000" stroke="#1a0000" stroke-width="0.55"/>
<circle cx="427.5" cy="75.1" r="1.65" fill="#aa0000" stroke="#1a0000" stroke-width="0.55"/>
<circle cx="430.6" cy="74.2" r="1.65" fill="#aa0000" stroke="#1a0000" stroke-width="0.55"/>
<circle cx="433.7" cy="72.7" r="1.65" fill="#aa0000" stroke="#1a0000" stroke-width="0.55"/>
<circle cx="436.5" cy="73.3" r="1.65" fill="#aa0000" stroke="#1a0000" stroke-width="0.55"/>
<circle cx="418.6" cy="77.3" r="1.65" fill="#aa0000" stroke="#1a0000" stroke-width="0.55"/>
<circle cx="424.2" cy="78" r="1.65" fill="#aa0000" stroke="#1a0000" stroke-width="0.55"/>
<circle cx="430.6" cy="77.3" r="1.65" fill="#aa0000" stroke="#1a0000" stroke-width="0.55"/>
<circle cx="433.7" cy="76.1" r="1.65" fill="#aa0000" stroke="#1a0000" stroke-width="0.55"/>
<circle cx="415.8" cy="80.8" r="1.65" fill="#aa0000" stroke="#1a0000" stroke-width="0.55"/>
<circle cx="418.6" cy="81.5" r="1.65" fill="#aa0000" stroke="#1a0000" stroke-width="0.55"/>
<circle cx="421.4" cy="79" r="1.65" fill="#aa0000" stroke="#1a0000" stroke-width="0.55"/>
<circle cx="427.5" cy="80.4" r="1.65" fill="#aa0000" stroke="#1a0000" stroke-width="0.55"/>
<circle cx="430.6" cy="80.8" r="1.65" fill="#aa0000" stroke="#1a0000" stroke-width="0.55"/>
<circle cx="436.5" cy="79.8" r="1.65" fill="#aa0000" stroke="#1a0000" stroke-width="0.55"/>
<circle cx="418.6" cy="85" r="1.65" fill="#aa0000" stroke="#1a0000" stroke-width="0.55"/>
<circle cx="424.2" cy="83.6" r="1.65" fill="#aa0000" stroke="#1a0000" stroke-width="0.55"/>
<circle cx="427.5" cy="84.6" r="1.65" fill="#aa0000" stroke="#1a0000" stroke-width="0.55"/>
<circle cx="430.6" cy="84.3" r="1.65" fill="#aa0000" stroke="#1a0000" stroke-width="0.55"/>
<circle cx="433.7" cy="84.3" r="1.65" fill="#aa0000" stroke="#1a0000" stroke-width="0.55"/>
<circle cx="436.5" cy="83.2" r="1.65" fill="#aa0000" stroke="#1a0000" stroke-width="0.55"/>
<circle cx="421.4" cy="89.6" r="1.65" fill="#aa0000" stroke="#1a0000" stroke-width="0.55"/>
<circle cx="420.8" cy="93.3" r="1.65" fill="#aa0000" stroke="#1a0000" stroke-width="0.55"/>
<circle cx="427.4" cy="93.1" r="1.65" fill="#aa0000" stroke="#1a0000" stroke-width="0.55"/>
<circle cx="430.6" cy="92.5" r="1.65" fill="#aa0000" stroke="#1a0000" stroke-width="0.55"/>
<circle cx="421.4" cy="82.9" r="1.65" fill="#aa0000" stroke="#1a0000" stroke-width="0.55"/>
<text x="259" y="14.4" font-size="21" text-anchor="start" font-weight="bold" fill="#000" style="stroke:none">b</text>
<line x1="507.3" y1="14.4" x2="507.3" y2="122.05" stroke="#161616" stroke-width="1.4" />
<line x1="506.65" y1="121.4" x2="668.1" y2="121.4" stroke="#161616" stroke-width="1.4" />
<line x1="503.1" y1="32.7" x2="507.3" y2="32.7" stroke="#161616" stroke-width="1.2" />
<text x="501.3" y="35.5" font-size="7.8" text-anchor="end" font-weight="normal" fill="#1a1a1a" >1.0</text>
<line x1="503.1" y1="77.1" x2="507.3" y2="77.1" stroke="#161616" stroke-width="1.2" />
<text x="501.3" y="79.9" font-size="7.8" text-anchor="end" font-weight="normal" fill="#1a1a1a" >0.5</text>
<line x1="503.1" y1="121.4" x2="507.3" y2="121.4" stroke="#161616" stroke-width="1.2" />
<text x="501.3" y="124.2" font-size="7.8" text-anchor="end" font-weight="normal" fill="#1a1a1a" >0.0</text>
<line x1="531.8" y1="121.4" x2="531.8" y2="125.9" stroke="#161616" stroke-width="1.2" />
<text x="535.9" y="126.6" font-size="8.4" text-anchor="end" font-weight="normal" fill="#1a1a1a" transform="rotate(-90 535.9 126.6)" >5 months</text>
<line x1="569" y1="121.4" x2="569" y2="125.9" stroke="#161616" stroke-width="1.2" />
<text x="573.1" y="126.6" font-size="8.4" text-anchor="end" font-weight="normal" fill="#1a1a1a" transform="rotate(-90 573.1 126.6)" >9 months</text>
<line x1="605.8" y1="121.4" x2="605.8" y2="125.9" stroke="#161616" stroke-width="1.2" />
<text x="609.9" y="126.6" font-size="8.4" text-anchor="end" font-weight="normal" fill="#1a1a1a" transform="rotate(-90 609.9 126.6)" >5 months</text>
<line x1="642.8" y1="121.4" x2="642.8" y2="125.9" stroke="#161616" stroke-width="1.2" />
<text x="646.9" y="126.6" font-size="8.4" text-anchor="end" font-weight="normal" fill="#1a1a1a" transform="rotate(-90 646.9 126.6)" >9 months</text>
<text x="484.9" y="68" font-size="8.5" text-anchor="middle" font-weight="normal" fill="#1a1a1a" transform="rotate(-90 484.9 68)" >Evenness</text>
<line x1="522.2" y1="165.0" x2="576.9" y2="165.0" stroke="#161616" stroke-width="1.4" />
<text x="550.3" y="174.9" font-size="8.4" text-anchor="middle" font-weight="normal" fill="#1a1a1a" >Hindmilk</text>
<line x1="597.9" y1="164.5" x2="652.7" y2="164.5" stroke="#161616" stroke-width="1.4" />
<text x="626.1" y="174.9" font-size="8.4" text-anchor="middle" font-weight="normal" fill="#1a1a1a" >Feces</text>
<path d="M531.6 51.9 V47.3 H568.8 V51.9" fill="none" stroke="#161616" stroke-width="1.3"/>
<text x="550.2" y="44.5" font-size="8.4" text-anchor="middle" font-weight="normal" fill="#1a1a1a" >ns</text>
<path d="M605 52.1 V47.5 H642.3 V52.1" fill="none" stroke="#161616" stroke-width="1.3"/>
<text x="625.5" y="45.5" font-size="7" text-anchor="middle" font-weight="bold" fill="#1a1a1a" letter-spacing="1.1" style="stroke:none">****</text>
<line x1="531.7" y1="61.8" x2="531.7" y2="67.6" stroke="#161616" stroke-width="1.3" />
<line x1="531.7" y1="80.2" x2="531.7" y2="100.2" stroke="#161616" stroke-width="1.3" />
<line x1="525.7" y1="61.8" x2="537.7" y2="61.8" stroke="#161616" stroke-width="1.3" />
<line x1="525.7" y1="100.2" x2="537.7" y2="100.2" stroke="#161616" stroke-width="1.3" />
<rect x="519.5" y="67.6" width="24.3" height="12.6" fill="none" stroke="#161616" stroke-width="1.3"/>
<line x1="519.5" y1="72.2" x2="543.8" y2="72.2" stroke="#161616" stroke-width="1.3" />
<circle cx="529.8" cy="61.8" r="1.65" fill="#8fbcf2" stroke="#1a2233" stroke-width="0.55"/>
<circle cx="533.7" cy="61.8" r="1.65" fill="#8fbcf2" stroke="#1a2233" stroke-width="0.55"/>
<circle cx="529.8" cy="67.3" r="1.65" fill="#8fbcf2" stroke="#1a2233" stroke-width="0.55"/>
<circle cx="520.9" cy="68.3" r="1.65" fill="#8fbcf2" stroke="#1a2233" stroke-width="0.55"/>
<circle cx="525.1" cy="68.3" r="1.65" fill="#8fbcf2" stroke="#1a2233" stroke-width="0.55"/>
<circle cx="533.7" cy="69.2" r="1.65" fill="#8fbcf2" stroke="#1a2233" stroke-width="0.55"/>
<circle cx="538.2" cy="69.2" r="1.65" fill="#8fbcf2" stroke="#1a2233" stroke-width="0.55"/>
<circle cx="542.5" cy="69.2" r="1.65" fill="#8fbcf2" stroke="#1a2233" stroke-width="0.55"/>
<circle cx="520.9" cy="72" r="1.65" fill="#8fbcf2" stroke="#1a2233" stroke-width="0.55"/>
<circle cx="525.1" cy="72" r="1.65" fill="#8fbcf2" stroke="#1a2233" stroke-width="0.55"/>
<circle cx="529.8" cy="71.1" r="1.65" fill="#8fbcf2" stroke="#1a2233" stroke-width="0.55"/>
<circle cx="533.7" cy="73.7" r="1.65" fill="#8fbcf2" stroke="#1a2233" stroke-width="0.55"/>
<circle cx="538.2" cy="73" r="1.65" fill="#8fbcf2" stroke="#1a2233" stroke-width="0.55"/>
<circle cx="529.8" cy="77.9" r="1.65" fill="#8fbcf2" stroke="#1a2233" stroke-width="0.55"/>
<circle cx="533.7" cy="78.6" r="1.65" fill="#8fbcf2" stroke="#1a2233" stroke-width="0.55"/>
<circle cx="538.2" cy="77.9" r="1.65" fill="#8fbcf2" stroke="#1a2233" stroke-width="0.55"/>
<circle cx="529.8" cy="82.8" r="1.65" fill="#8fbcf2" stroke="#1a2233" stroke-width="0.55"/>
<circle cx="533.7" cy="84.2" r="1.65" fill="#8fbcf2" stroke="#1a2233" stroke-width="0.55"/>
<circle cx="529.8" cy="87.5" r="1.65" fill="#8fbcf2" stroke="#1a2233" stroke-width="0.55"/>
<circle cx="533.7" cy="89.9" r="1.65" fill="#8fbcf2" stroke="#1a2233" stroke-width="0.55"/>
<circle cx="531.6" cy="100.1" r="1.65" fill="#8fbcf2" stroke="#1a2233" stroke-width="0.55"/>
<line x1="568.6" y1="57.9" x2="568.6" y2="69.7" stroke="#161616" stroke-width="1.3" />
<line x1="568.6" y1="84.2" x2="568.6" y2="107.2" stroke="#161616" stroke-width="1.3" />
<line x1="562.6" y1="57.9" x2="574.6" y2="57.9" stroke="#161616" stroke-width="1.3" />
<line x1="562.6" y1="107.2" x2="574.6" y2="107.2" stroke="#161616" stroke-width="1.3" />
<rect x="556.6" y="69.7" width="24.2" height="14.5" fill="none" stroke="#161616" stroke-width="1.3"/>
<line x1="556.6" y1="74.4" x2="580.8" y2="74.4" stroke="#161616" stroke-width="1.3" />
<circle cx="568.5" cy="57.9" r="1.65" fill="#0000f0" stroke="#000060" stroke-width="0.55"/>
<circle cx="563.2" cy="65.5" r="1.65" fill="#0000f0" stroke="#000060" stroke-width="0.55"/>
<circle cx="574.2" cy="63.8" r="1.65" fill="#0000f0" stroke="#000060" stroke-width="0.55"/>
<circle cx="579.5" cy="67.3" r="1.65" fill="#0000f0" stroke="#000060" stroke-width="0.55"/>
<circle cx="558" cy="69.4" r="1.65" fill="#0000f0" stroke="#000060" stroke-width="0.55"/>
<circle cx="568.5" cy="69.7" r="1.65" fill="#0000f0" stroke="#000060" stroke-width="0.55"/>
<circle cx="574.2" cy="69.2" r="1.65" fill="#0000f0" stroke="#000060" stroke-width="0.55"/>
<circle cx="579.5" cy="70.6" r="1.65" fill="#0000f0" stroke="#000060" stroke-width="0.55"/>
<circle cx="563.2" cy="72.5" r="1.65" fill="#0000f0" stroke="#000060" stroke-width="0.55"/>
<circle cx="558" cy="74.4" r="1.65" fill="#0000f0" stroke="#000060" stroke-width="0.55"/>
<circle cx="568.5" cy="74.4" r="1.65" fill="#0000f0" stroke="#000060" stroke-width="0.55"/>
<circle cx="579.5" cy="74.8" r="1.65" fill="#0000f0" stroke="#000060" stroke-width="0.55"/>
<circle cx="563.2" cy="76.8" r="1.65" fill="#0000f0" stroke="#000060" stroke-width="0.55"/>
<circle cx="568.5" cy="77.9" r="1.65" fill="#0000f0" stroke="#000060" stroke-width="0.55"/>
<circle cx="563.2" cy="80" r="1.65" fill="#0000f0" stroke="#000060" stroke-width="0.55"/>
<circle cx="574.2" cy="80" r="1.65" fill="#0000f0" stroke="#000060" stroke-width="0.55"/>
<circle cx="568.5" cy="82.4" r="1.65" fill="#0000f0" stroke="#000060" stroke-width="0.55"/>
<circle cx="568.5" cy="91.3" r="1.65" fill="#0000f0" stroke="#000060" stroke-width="0.55"/>
<circle cx="566" cy="99" r="1.65" fill="#0000f0" stroke="#000060" stroke-width="0.55"/>
<circle cx="571.3" cy="98.6" r="1.65" fill="#0000f0" stroke="#000060" stroke-width="0.55"/>
<circle cx="566" cy="107.2" r="1.65" fill="#0000f0" stroke="#000060" stroke-width="0.55"/>
<circle cx="571.3" cy="106.1" r="1.65" fill="#0000f0" stroke="#000060" stroke-width="0.55"/>
<line x1="605.6" y1="70.1" x2="605.6" y2="85.3" stroke="#161616" stroke-width="1.3" />
<line x1="605.6" y1="100.2" x2="605.6" y2="113.3" stroke="#161616" stroke-width="1.3" />
<line x1="599.6" y1="70.1" x2="611.6" y2="70.1" stroke="#161616" stroke-width="1.3" />
<line x1="599.6" y1="113.3" x2="611.6" y2="113.3" stroke="#161616" stroke-width="1.3" />
<rect x="593.3" y="85.3" width="24.5" height="14.9" fill="none" stroke="#161616" stroke-width="1.3"/>
<line x1="593.3" y1="93.9" x2="617.8" y2="93.9" stroke="#161616" stroke-width="1.3" />
<circle cx="605.6" cy="70.1" r="1.65" fill="#ff8400" stroke="#1a0c00" stroke-width="0.55"/>
<circle cx="603.4" cy="77.6" r="1.65" fill="#ff8400" stroke="#1a0c00" stroke-width="0.55"/>
<circle cx="607.8" cy="76.8" r="1.65" fill="#ff8400" stroke="#1a0c00" stroke-width="0.55"/>
<circle cx="595.2" cy="82" r="1.65" fill="#ff8400" stroke="#1a0c00" stroke-width="0.55"/>
<circle cx="599.2" cy="83.8" r="1.65" fill="#ff8400" stroke="#1a0c00" stroke-width="0.55"/>
<circle cx="603.4" cy="85.3" r="1.65" fill="#ff8400" stroke="#1a0c00" stroke-width="0.55"/>
<circle cx="607.8" cy="81.3" r="1.65" fill="#ff8400" stroke="#1a0c00" stroke-width="0.55"/>
<circle cx="607.8" cy="84.7" r="1.65" fill="#ff8400" stroke="#1a0c00" stroke-width="0.55"/>
<circle cx="612.3" cy="82.5" r="1.65" fill="#ff8400" stroke="#1a0c00" stroke-width="0.55"/>
<circle cx="616.5" cy="83.8" r="1.65" fill="#ff8400" stroke="#1a0c00" stroke-width="0.55"/>
<circle cx="599.2" cy="88.7" r="1.65" fill="#ff8400" stroke="#1a0c00" stroke-width="0.55"/>
<circle cx="603.4" cy="89.2" r="1.65" fill="#ff8400" stroke="#1a0c00" stroke-width="0.55"/>
<circle cx="607.8" cy="89.9" r="1.65" fill="#ff8400" stroke="#1a0c00" stroke-width="0.55"/>
<circle cx="612.3" cy="87" r="1.65" fill="#ff8400" stroke="#1a0c00" stroke-width="0.55"/>
<circle cx="612.3" cy="91.3" r="1.65" fill="#ff8400" stroke="#1a0c00" stroke-width="0.55"/>
<circle cx="595.2" cy="93.9" r="1.65" fill="#ff8400" stroke="#1a0c00" stroke-width="0.55"/>
<circle cx="599.2" cy="93.2" r="1.65" fill="#ff8400" stroke="#1a0c00" stroke-width="0.55"/>
<circle cx="599.2" cy="96.2" r="1.65" fill="#ff8400" stroke="#1a0c00" stroke-width="0.55"/>
<circle cx="603.4" cy="97.2" r="1.65" fill="#ff8400" stroke="#1a0c00" stroke-width="0.55"/>
<circle cx="607.8" cy="98.1" r="1.65" fill="#ff8400" stroke="#1a0c00" stroke-width="0.55"/>
<circle cx="612.3" cy="95.4" r="1.65" fill="#ff8400" stroke="#1a0c00" stroke-width="0.55"/>
<circle cx="616.5" cy="94.2" r="1.65" fill="#ff8400" stroke="#1a0c00" stroke-width="0.55"/>
<circle cx="595.2" cy="100.6" r="1.65" fill="#ff8400" stroke="#1a0c00" stroke-width="0.55"/>
<circle cx="607.8" cy="101.1" r="1.65" fill="#ff8400" stroke="#1a0c00" stroke-width="0.55"/>
<circle cx="612.3" cy="99.6" r="1.65" fill="#ff8400" stroke="#1a0c00" stroke-width="0.55"/>
<circle cx="612.3" cy="102.9" r="1.65" fill="#ff8400" stroke="#1a0c00" stroke-width="0.55"/>
<circle cx="603.4" cy="105.8" r="1.65" fill="#ff8400" stroke="#1a0c00" stroke-width="0.55"/>
<circle cx="607.8" cy="104.8" r="1.65" fill="#ff8400" stroke="#1a0c00" stroke-width="0.55"/>
<circle cx="599.2" cy="108.8" r="1.65" fill="#ff8400" stroke="#1a0c00" stroke-width="0.55"/>
<circle cx="599.2" cy="113.6" r="1.65" fill="#ff8400" stroke="#1a0c00" stroke-width="0.55"/>
<circle cx="607.8" cy="112.5" r="1.65" fill="#ff8400" stroke="#1a0c00" stroke-width="0.55"/>
<circle cx="612.3" cy="111.8" r="1.65" fill="#ff8400" stroke="#1a0c00" stroke-width="0.55"/>
<line x1="642.5" y1="60.5" x2="642.5" y2="67.2" stroke="#161616" stroke-width="1.3" />
<line x1="642.5" y1="74.3" x2="642.5" y2="87" stroke="#161616" stroke-width="1.3" />
<line x1="636.5" y1="60.5" x2="648.5" y2="60.5" stroke="#161616" stroke-width="1.3" />
<line x1="636.5" y1="87" x2="648.5" y2="87" stroke="#161616" stroke-width="1.3" />
<rect x="630.4" y="67.2" width="24.3" height="7.1" fill="none" stroke="#161616" stroke-width="1.3"/>
<line x1="630.4" y1="68.4" x2="654.7" y2="68.4" stroke="#161616" stroke-width="1.3" />
<circle cx="641.3" cy="60.8" r="1.65" fill="#aa0000" stroke="#1a0000" stroke-width="0.55"/>
<circle cx="637.9" cy="63" r="1.65" fill="#aa0000" stroke="#1a0000" stroke-width="0.55"/>
<circle cx="643.5" cy="63.5" r="1.65" fill="#aa0000" stroke="#1a0000" stroke-width="0.55"/>
<circle cx="647.2" cy="64.5" r="1.65" fill="#aa0000" stroke="#1a0000" stroke-width="0.55"/>
<circle cx="633.9" cy="67.2" r="1.65" fill="#aa0000" stroke="#1a0000" stroke-width="0.55"/>
<circle cx="637.9" cy="67.5" r="1.65" fill="#aa0000" stroke="#1a0000" stroke-width="0.55"/>
<circle cx="641.3" cy="66.9" r="1.65" fill="#aa0000" stroke="#1a0000" stroke-width="0.55"/>
<circle cx="645" cy="66" r="1.65" fill="#aa0000" stroke="#1a0000" stroke-width="0.55"/>
<circle cx="649.5" cy="66.9" r="1.65" fill="#aa0000" stroke="#1a0000" stroke-width="0.55"/>
<circle cx="653.2" cy="67.9" r="1.65" fill="#aa0000" stroke="#1a0000" stroke-width="0.55"/>
<circle cx="636.1" cy="69" r="1.65" fill="#aa0000" stroke="#1a0000" stroke-width="0.55"/>
<circle cx="640.6" cy="69.9" r="1.65" fill="#aa0000" stroke="#1a0000" stroke-width="0.55"/>
<circle cx="643.5" cy="69" r="1.65" fill="#aa0000" stroke="#1a0000" stroke-width="0.55"/>
<circle cx="646.5" cy="69.4" r="1.65" fill="#aa0000" stroke="#1a0000" stroke-width="0.55"/>
<circle cx="649.5" cy="70.4" r="1.65" fill="#aa0000" stroke="#1a0000" stroke-width="0.55"/>
<circle cx="637.9" cy="73.1" r="1.65" fill="#aa0000" stroke="#1a0000" stroke-width="0.55"/>
<circle cx="641.7" cy="72.4" r="1.65" fill="#aa0000" stroke="#1a0000" stroke-width="0.55"/>
<circle cx="645" cy="73.4" r="1.65" fill="#aa0000" stroke="#1a0000" stroke-width="0.55"/>
<circle cx="641.7" cy="74.9" r="1.65" fill="#aa0000" stroke="#1a0000" stroke-width="0.55"/>
<circle cx="639.8" cy="77.3" r="1.65" fill="#aa0000" stroke="#1a0000" stroke-width="0.55"/>
<circle cx="643.5" cy="77.6" r="1.65" fill="#aa0000" stroke="#1a0000" stroke-width="0.55"/>
<circle cx="641.7" cy="79.8" r="1.65" fill="#aa0000" stroke="#1a0000" stroke-width="0.55"/>
<circle cx="642.3" cy="82.8" r="1.65" fill="#aa0000" stroke="#1a0000" stroke-width="0.55"/>
<circle cx="642.3" cy="87" r="1.65" fill="#aa0000" stroke="#1a0000" stroke-width="0.55"/>
<circle cx="648.7" cy="66.9" r="1.65" fill="#aa0000" stroke="#1a0000" stroke-width="0.55"/>
<text x="473.9" y="14.6" font-size="21" text-anchor="start" font-weight="bold" fill="#000" style="stroke:none">c</text>
<line x1="69.6" y1="341.2" x2="330.6" y2="341.2" stroke="#9a9a9a" stroke-width="0.8" stroke-dasharray="1.5 1.45"/>
<line x1="199.6" y1="247.2" x2="199.6" y2="434.3" stroke="#9a9a9a" stroke-width="0.8" stroke-dasharray="1.5 1.45"/>
<line x1="69.6" y1="247.2" x2="69.6" y2="434.95" stroke="#262626" stroke-width="1.3" />
<line x1="68.95" y1="434.3" x2="330.6" y2="434.3" stroke="#262626" stroke-width="1.3" />
<line x1="66.4" y1="282.3" x2="69.6" y2="282.3" stroke="#262626" stroke-width="1.3" />
<text x="65.6" y="285.85" font-size="10" text-anchor="end" font-weight="normal" fill="#1a1a1a" >0.5</text>
<line x1="66.4" y1="341.2" x2="69.6" y2="341.2" stroke="#262626" stroke-width="1.3" />
<text x="65.6" y="344.75" font-size="10" text-anchor="end" font-weight="normal" fill="#1a1a1a" >0.0</text>
<line x1="66.4" y1="399.5" x2="69.6" y2="399.5" stroke="#262626" stroke-width="1.3" />
<text x="65.6" y="403.05" font-size="10" text-anchor="end" font-weight="normal" fill="#1a1a1a" >-0.5</text>
<line x1="118" y1="434.3" x2="118" y2="437.3" stroke="#262626" stroke-width="1.3" />
<text x="118" y="448.3" font-size="10" text-anchor="middle" font-weight="normal" fill="#1a1a1a" >-0.5</text>
<line x1="199.8" y1="434.3" x2="199.8" y2="437.3" stroke="#262626" stroke-width="1.3" />
<text x="199.8" y="448.3" font-size="10" text-anchor="middle" font-weight="normal" fill="#1a1a1a" >0.0</text>
<line x1="281.6" y1="434.3" x2="281.6" y2="437.3" stroke="#262626" stroke-width="1.3" />
<text x="281.6" y="448.3" font-size="10" text-anchor="middle" font-weight="normal" fill="#1a1a1a" >0.5</text>
<text x="199.9" y="461.3" font-size="11" text-anchor="middle" font-weight="normal" fill="#1a1a1a" >PC1 (25.8%)</text>
<text x="44.7" y="339.7" font-size="11" text-anchor="middle" font-weight="normal" fill="#1a1a1a" transform="rotate(-90 44.7 339.7)" >PC2 (9.4%)</text>
<text x="199.5" y="216.9" font-size="10.8" text-anchor="middle" font-weight="normal" fill="#1a1a1a" >Bray Curtis</text>
<text x="19.3" y="218.4" font-size="21" text-anchor="start" font-weight="bold" fill="#000" style="stroke:none">d</text>
<text x="250.6" y="238.8" font-size="8" text-anchor="start" font-weight="normal" fill="#1a1a1a" >ANOSIM</text>
<text x="288.7" y="238.8" font-size="8" text-anchor="start" font-weight="normal" fill="#1a1a1a" >R</text>
<text x="313.6" y="238.8" font-size="8" text-anchor="start" font-weight="normal" fill="#1a1a1a" >P</text>
<line x1="250.4" y1="240.4" x2="341.5" y2="240.4" stroke="#333" stroke-width="0.9" />
<text x="250.6" y="248.8" font-size="8" text-anchor="start" font-weight="normal" fill="#1a1a1a" >F5-F9</text>
<text x="288.7" y="248.8" font-size="8" text-anchor="start" font-weight="normal" fill="#1a1a1a" >0.28</text>
<text x="313.6" y="248.8" font-size="8" text-anchor="start" font-weight="normal" fill="#1a1a1a" >&lt;0.001</text>
<text x="250.6" y="258.2" font-size="8" text-anchor="start" font-weight="normal" fill="#1a1a1a" >M5-M9</text>
<text x="288.7" y="258.2" font-size="8" text-anchor="start" font-weight="normal" fill="#1a1a1a" >0.01</text>
<text x="313.6" y="258.2" font-size="8" text-anchor="start" font-weight="normal" fill="#1a1a1a" >0.30</text>
<text x="250.6" y="267.6" font-size="8" text-anchor="start" font-weight="normal" fill="#1a1a1a" >F5-M5</text>
<text x="288.7" y="267.6" font-size="8" text-anchor="start" font-weight="normal" fill="#1a1a1a" >0.73</text>
<text x="313.6" y="267.6" font-size="8" text-anchor="start" font-weight="normal" fill="#1a1a1a" >&lt;0.001</text>
<text x="250.6" y="276.9" font-size="8" text-anchor="start" font-weight="normal" fill="#1a1a1a" >F9-M9</text>
<text x="288.7" y="276.9" font-size="8" text-anchor="start" font-weight="normal" fill="#1a1a1a" >0.89</text>
<text x="313.6" y="276.9" font-size="8" text-anchor="start" font-weight="normal" fill="#1a1a1a" >&lt;0.001</text>
<circle cx="134.6" cy="322.7" r="2.05" fill="#8fbcf2" stroke="#1a2233" stroke-width="0.6"/>
<circle cx="142.5" cy="326.2" r="2.05" fill="#8fbcf2" stroke="#1a2233" stroke-width="0.6"/>
<circle cx="146" cy="325.1" r="2.05" fill="#8fbcf2" stroke="#1a2233" stroke-width="0.6"/>
<circle cx="141.5" cy="332.3" r="2.05" fill="#8fbcf2" stroke="#1a2233" stroke-width="0.6"/>
<circle cx="153.5" cy="331.9" r="2.05" fill="#8fbcf2" stroke="#1a2233" stroke-width="0.6"/>
<circle cx="159.2" cy="329.7" r="2.05" fill="#8fbcf2" stroke="#1a2233" stroke-width="0.6"/>
<circle cx="147.6" cy="340.8" r="2.05" fill="#8fbcf2" stroke="#1a2233" stroke-width="0.6"/>
<circle cx="171.9" cy="345.7" r="2.05" fill="#8fbcf2" stroke="#1a2233" stroke-width="0.6"/>
<circle cx="177.6" cy="345.3" r="2.05" fill="#8fbcf2" stroke="#1a2233" stroke-width="0.6"/>
<circle cx="183.9" cy="373.2" r="2.05" fill="#8fbcf2" stroke="#1a2233" stroke-width="0.6"/>
<circle cx="190.1" cy="379.8" r="2.05" fill="#8fbcf2" stroke="#1a2233" stroke-width="0.6"/>
<circle cx="208.1" cy="369.5" r="2.05" fill="#8fbcf2" stroke="#1a2233" stroke-width="0.6"/>
<circle cx="209.6" cy="378.8" r="2.05" fill="#8fbcf2" stroke="#1a2233" stroke-width="0.6"/>
<circle cx="135.5" cy="319.2" r="2.05" fill="#0000f0" stroke="#000060" stroke-width="0.6"/>
<circle cx="137.3" cy="320.3" r="2.05" fill="#0000f0" stroke="#000060" stroke-width="0.6"/>
<circle cx="134.2" cy="321.2" r="2.05" fill="#0000f0" stroke="#000060" stroke-width="0.6"/>
<circle cx="137.7" cy="323.1" r="2.05" fill="#0000f0" stroke="#000060" stroke-width="0.6"/>
<circle cx="139.9" cy="323.1" r="2.05" fill="#0000f0" stroke="#000060" stroke-width="0.6"/>
<circle cx="141.6" cy="328.4" r="2.05" fill="#0000f0" stroke="#000060" stroke-width="0.6"/>
<circle cx="146" cy="329.3" r="2.05" fill="#0000f0" stroke="#000060" stroke-width="0.6"/>
<circle cx="150" cy="328.8" r="2.05" fill="#0000f0" stroke="#000060" stroke-width="0.6"/>
<circle cx="148.2" cy="331" r="2.05" fill="#0000f0" stroke="#000060" stroke-width="0.6"/>
<circle cx="151.3" cy="332.6" r="2.05" fill="#0000f0" stroke="#000060" stroke-width="0.6"/>
<circle cx="161.8" cy="337.2" r="2.05" fill="#0000f0" stroke="#000060" stroke-width="0.6"/>
<circle cx="162.2" cy="338.9" r="2.05" fill="#0000f0" stroke="#000060" stroke-width="0.6"/>
<circle cx="164" cy="342" r="2.05" fill="#0000f0" stroke="#000060" stroke-width="0.6"/>
<circle cx="165.5" cy="342.6" r="2.05" fill="#0000f0" stroke="#000060" stroke-width="0.6"/>
<circle cx="169.7" cy="345.9" r="2.05" fill="#0000f0" stroke="#000060" stroke-width="0.6"/>
<circle cx="178" cy="351.6" r="2.05" fill="#0000f0" stroke="#000060" stroke-width="0.6"/>
<circle cx="203.2" cy="387.3" r="2.05" fill="#0000f0" stroke="#000060" stroke-width="0.6"/>
<circle cx="207.3" cy="388.1" r="2.05" fill="#0000f0" stroke="#000060" stroke-width="0.6"/>
<circle cx="210.2" cy="385.5" r="2.05" fill="#0000f0" stroke="#000060" stroke-width="0.6"/>
<circle cx="203.4" cy="362.4" r="2.05" fill="#ff8400" stroke="#1a0c00" stroke-width="0.6"/>
<circle cx="212.3" cy="362.4" r="2.05" fill="#ff8400" stroke="#1a0c00" stroke-width="0.6"/>
<circle cx="219.8" cy="363.4" r="2.05" fill="#ff8400" stroke="#1a0c00" stroke-width="0.6"/>
<circle cx="228" cy="361.4" r="2.05" fill="#ff8400" stroke="#1a0c00" stroke-width="0.6"/>
<circle cx="239" cy="358.7" r="2.05" fill="#ff8400" stroke="#1a0c00" stroke-width="0.6"/>
<circle cx="213.5" cy="367.1" r="2.05" fill="#ff8400" stroke="#1a0c00" stroke-width="0.6"/>
<circle cx="215.1" cy="368" r="2.05" fill="#ff8400" stroke="#1a0c00" stroke-width="0.6"/>
<circle cx="259.8" cy="301.6" r="2.05" fill="#ff8400" stroke="#1a0c00" stroke-width="0.6"/>
<circle cx="273.2" cy="303.8" r="2.05" fill="#ff8400" stroke="#1a0c00" stroke-width="0.6"/>
<circle cx="275.3" cy="307.6" r="2.05" fill="#ff8400" stroke="#1a0c00" stroke-width="0.6"/>
<circle cx="279.9" cy="307.6" r="2.05" fill="#ff8400" stroke="#1a0c00" stroke-width="0.6"/>
<circle cx="282" cy="308.5" r="2.05" fill="#ff8400" stroke="#1a0c00" stroke-width="0.6"/>
<circle cx="284.2" cy="310.2" r="2.05" fill="#ff8400" stroke="#1a0c00" stroke-width="0.6"/>
<circle cx="287.2" cy="312.2" r="2.05" fill="#ff8400" stroke="#1a0c00" stroke-width="0.6"/>
<circle cx="284.6" cy="312.5" r="2.05" fill="#ff8400" stroke="#1a0c00" stroke-width="0.6"/>
<circle cx="282.4" cy="312.5" r="2.05" fill="#ff8400" stroke="#1a0c00" stroke-width="0.6"/>
<circle cx="273" cy="313.2" r="2.05" fill="#ff8400" stroke="#1a0c00" stroke-width="0.6"/>
<circle cx="278.4" cy="314.3" r="2.05" fill="#ff8400" stroke="#1a0c00" stroke-width="0.6"/>
<circle cx="283.7" cy="316.2" r="2.05" fill="#ff8400" stroke="#1a0c00" stroke-width="0.6"/>
<circle cx="281.1" cy="317.4" r="2.05" fill="#ff8400" stroke="#1a0c00" stroke-width="0.6"/>
<circle cx="271.9" cy="318.8" r="2.05" fill="#ff8400" stroke="#1a0c00" stroke-width="0.6"/>
<circle cx="256.2" cy="323.1" r="2.05" fill="#ff8400" stroke="#1a0c00" stroke-width="0.6"/>
<circle cx="272.1" cy="325.3" r="2.05" fill="#ff8400" stroke="#1a0c00" stroke-width="0.6"/>
<circle cx="277" cy="325.3" r="2.05" fill="#ff8400" stroke="#1a0c00" stroke-width="0.6"/>
<circle cx="253.4" cy="344.9" r="2.05" fill="#aa0000" stroke="#1a0000" stroke-width="0.6"/>
<circle cx="256" cy="345.8" r="2.05" fill="#aa0000" stroke="#1a0000" stroke-width="0.6"/>
<circle cx="263.7" cy="349.1" r="2.05" fill="#aa0000" stroke="#1a0000" stroke-width="0.6"/>
<circle cx="257.5" cy="351.7" r="2.05" fill="#aa0000" stroke="#1a0000" stroke-width="0.6"/>
<circle cx="250.1" cy="351.7" r="2.05" fill="#aa0000" stroke="#1a0000" stroke-width="0.6"/>
<circle cx="245.8" cy="355" r="2.05" fill="#aa0000" stroke="#1a0000" stroke-width="0.6"/>
<circle cx="249" cy="354.6" r="2.05" fill="#aa0000" stroke="#1a0000" stroke-width="0.6"/>
<circle cx="253.6" cy="354" r="2.05" fill="#aa0000" stroke="#1a0000" stroke-width="0.6"/>
<circle cx="251.9" cy="357.8" r="2.05" fill="#aa0000" stroke="#1a0000" stroke-width="0.6"/>
<circle cx="236.8" cy="368.8" r="2.05" fill="#aa0000" stroke="#1a0000" stroke-width="0.6"/>
<circle cx="232.6" cy="371.1" r="2.05" fill="#aa0000" stroke="#1a0000" stroke-width="0.6"/>
<circle cx="238.2" cy="374.5" r="2.05" fill="#aa0000" stroke="#1a0000" stroke-width="0.6"/>
<circle cx="218.6" cy="369.8" r="2.05" fill="#aa0000" stroke="#1a0000" stroke-width="0.6"/>
<circle cx="223.6" cy="367.4" r="2.05" fill="#aa0000" stroke="#1a0000" stroke-width="0.6"/>
<circle cx="222.1" cy="370.1" r="2.05" fill="#aa0000" stroke="#1a0000" stroke-width="0.6"/>
<circle cx="224.8" cy="372.1" r="2.05" fill="#aa0000" stroke="#1a0000" stroke-width="0.6"/>
<circle cx="227.1" cy="373.3" r="2.05" fill="#aa0000" stroke="#1a0000" stroke-width="0.6"/>
<circle cx="222.4" cy="375.6" r="2.05" fill="#aa0000" stroke="#1a0000" stroke-width="0.6"/>
<circle cx="226.3" cy="376.8" r="2.05" fill="#aa0000" stroke="#1a0000" stroke-width="0.6"/>
<circle cx="223" cy="378.3" r="2.05" fill="#aa0000" stroke="#1a0000" stroke-width="0.6"/>
<circle cx="221.6" cy="372.1" r="2.05" fill="#aa0000" stroke="#1a0000" stroke-width="0.6"/>
<circle cx="281.6" cy="320.6" r="2.05" fill="#aa0000" stroke="#1a0000" stroke-width="0.6"/>
<circle cx="286.5" cy="319.3" r="2.05" fill="#aa0000" stroke="#1a0000" stroke-width="0.6"/>
<circle cx="272.7" cy="329.4" r="2.05" fill="#aa0000" stroke="#1a0000" stroke-width="0.6"/>
<circle cx="275.8" cy="330.3" r="2.05" fill="#aa0000" stroke="#1a0000" stroke-width="0.6"/>
<circle cx="270.8" cy="332.3" r="2.05" fill="#aa0000" stroke="#1a0000" stroke-width="0.6"/>
<circle cx="269.5" cy="334.6" r="2.05" fill="#aa0000" stroke="#1a0000" stroke-width="0.6"/>
<line x1="416" y1="339.1" x2="677.4" y2="339.1" stroke="#9a9a9a" stroke-width="0.8" stroke-dasharray="1.5 1.45"/>
<line x1="546.5" y1="245.3" x2="546.5" y2="432.9" stroke="#9a9a9a" stroke-width="0.8" stroke-dasharray="1.5 1.45"/>
<line x1="416" y1="245.3" x2="416" y2="433.65" stroke="#6a6a6a" stroke-width="1.5" />
<line x1="415.25" y1="432.9" x2="677.4" y2="432.9" stroke="#6a6a6a" stroke-width="1.5" />
<line x1="412.8" y1="245.4" x2="416" y2="245.4" stroke="#1a1a1a" stroke-width="1.3" />
<text x="411.9" y="248.95" font-size="10" text-anchor="end" font-weight="normal" fill="#1a1a1a" >0.5</text>
<line x1="412.8" y1="339" x2="416" y2="339" stroke="#1a1a1a" stroke-width="1.3" />
<text x="411.9" y="342.55" font-size="10" text-anchor="end" font-weight="normal" fill="#1a1a1a" >0.0</text>
<line x1="412.8" y1="432.9" x2="416" y2="432.9" stroke="#1a1a1a" stroke-width="1.3" />
<text x="411.9" y="436.45" font-size="10" text-anchor="end" font-weight="normal" fill="#1a1a1a" >-0.5</text>
<line x1="416" y1="432.9" x2="416" y2="435.9" stroke="#1a1a1a" stroke-width="1.3" />
<text x="416" y="446.5" font-size="10" text-anchor="middle" font-weight="normal" fill="#1a1a1a" >-0.5</text>
<line x1="546.7" y1="432.9" x2="546.7" y2="435.9" stroke="#1a1a1a" stroke-width="1.3" />
<text x="546.7" y="446.5" font-size="10" text-anchor="middle" font-weight="normal" fill="#1a1a1a" >0.0</text>
<line x1="677.4" y1="432.9" x2="677.4" y2="435.9" stroke="#1a1a1a" stroke-width="1.3" />
<text x="677.4" y="446.5" font-size="10" text-anchor="middle" font-weight="normal" fill="#1a1a1a" >0.5</text>
<text x="546.9" y="460.0" font-size="11" text-anchor="middle" font-weight="normal" fill="#1a1a1a" >PC1 (17.2%)</text>
<text x="389.3" y="338.2" font-size="11" text-anchor="middle" font-weight="normal" fill="#1a1a1a" transform="rotate(-90 389.3 338.2)" >PC2 (5.1%)</text>
<text x="546.3" y="216.9" font-size="10.8" text-anchor="middle" font-weight="normal" fill="#1a1a1a" >Jaccard</text>
<text x="365.7" y="218.6" font-size="21" text-anchor="start" font-weight="bold" fill="#000" style="stroke:none">e</text>
<text x="594.3" y="229.9" font-size="8" text-anchor="start" font-weight="normal" fill="#1a1a1a" >ANOSIM</text>
<text x="632.1" y="229.9" font-size="8" text-anchor="start" font-weight="normal" fill="#1a1a1a" >R</text>
<text x="657.2" y="229.9" font-size="8" text-anchor="start" font-weight="normal" fill="#1a1a1a" >P</text>
<line x1="593.8" y1="231.8" x2="685" y2="231.8" stroke="#333" stroke-width="0.9" />
<text x="594.3" y="238.9" font-size="8" text-anchor="start" font-weight="normal" fill="#1a1a1a" >F5-F9</text>
<text x="632.1" y="238.9" font-size="8" text-anchor="start" font-weight="normal" fill="#1a1a1a" >0.55</text>
<text x="657.2" y="238.9" font-size="8" text-anchor="start" font-weight="normal" fill="#1a1a1a" >&lt;0.001</text>
<text x="594.3" y="248.7" font-size="8" text-anchor="start" font-weight="normal" fill="#1a1a1a" >M5-M9</text>
<text x="632.1" y="248.7" font-size="8" text-anchor="start" font-weight="normal" fill="#1a1a1a" >0.18</text>
<text x="657.2" y="248.7" font-size="8" text-anchor="start" font-weight="normal" fill="#1a1a1a" >&lt;0.001</text>
<text x="594.3" y="258.4" font-size="8" text-anchor="start" font-weight="normal" fill="#1a1a1a" >F5-M5</text>
<text x="632.1" y="258.4" font-size="8" text-anchor="start" font-weight="normal" fill="#1a1a1a" >0.82</text>
<text x="657.2" y="258.4" font-size="8" text-anchor="start" font-weight="normal" fill="#1a1a1a" >&lt;0.001</text>
<text x="594.3" y="267.9" font-size="8" text-anchor="start" font-weight="normal" fill="#1a1a1a" >F9-M9</text>
<text x="632.1" y="267.9" font-size="8" text-anchor="start" font-weight="normal" fill="#1a1a1a" >0.98</text>
<text x="657.2" y="267.9" font-size="8" text-anchor="start" font-weight="normal" fill="#1a1a1a" >&lt;0.001</text>
<circle cx="547" cy="268.4" r="2.05" fill="#8fbcf2" stroke="#1a2233" stroke-width="0.6"/>
<circle cx="522.5" cy="297.2" r="2.05" fill="#8fbcf2" stroke="#1a2233" stroke-width="0.6"/>
<circle cx="514.4" cy="304.3" r="2.05" fill="#8fbcf2" stroke="#1a2233" stroke-width="0.6"/>
<circle cx="490.8" cy="308.4" r="2.05" fill="#8fbcf2" stroke="#1a2233" stroke-width="0.6"/>
<circle cx="492.4" cy="313.4" r="2.05" fill="#8fbcf2" stroke="#1a2233" stroke-width="0.6"/>
<circle cx="497.5" cy="324.2" r="2.05" fill="#8fbcf2" stroke="#1a2233" stroke-width="0.6"/>
<circle cx="486.7" cy="328.7" r="2.05" fill="#8fbcf2" stroke="#1a2233" stroke-width="0.6"/>
<circle cx="475.7" cy="332.4" r="2.05" fill="#8fbcf2" stroke="#1a2233" stroke-width="0.6"/>
<circle cx="494.8" cy="331" r="2.05" fill="#8fbcf2" stroke="#1a2233" stroke-width="0.6"/>
<circle cx="487.9" cy="336.4" r="2.05" fill="#8fbcf2" stroke="#1a2233" stroke-width="0.6"/>
<circle cx="492.8" cy="336" r="2.05" fill="#8fbcf2" stroke="#1a2233" stroke-width="0.6"/>
<circle cx="494" cy="337.5" r="2.05" fill="#8fbcf2" stroke="#1a2233" stroke-width="0.6"/>
<circle cx="506.2" cy="341.5" r="2.05" fill="#8fbcf2" stroke="#1a2233" stroke-width="0.6"/>
<circle cx="504.6" cy="343" r="2.05" fill="#8fbcf2" stroke="#1a2233" stroke-width="0.6"/>
<circle cx="489.3" cy="344.2" r="2.05" fill="#8fbcf2" stroke="#1a2233" stroke-width="0.6"/>
<circle cx="487.9" cy="344.2" r="2.05" fill="#8fbcf2" stroke="#1a2233" stroke-width="0.6"/>
<circle cx="475.1" cy="349.1" r="2.05" fill="#8fbcf2" stroke="#1a2233" stroke-width="0.6"/>
<circle cx="477.7" cy="353.8" r="2.05" fill="#8fbcf2" stroke="#1a2233" stroke-width="0.6"/>
<circle cx="488.3" cy="355.8" r="2.05" fill="#8fbcf2" stroke="#1a2233" stroke-width="0.6"/>
<circle cx="487.3" cy="356.8" r="2.05" fill="#8fbcf2" stroke="#1a2233" stroke-width="0.6"/>
<circle cx="542.3" cy="274.8" r="2.05" fill="#0000f0" stroke="#000060" stroke-width="0.6"/>
<circle cx="516" cy="298.4" r="2.05" fill="#0000f0" stroke="#000060" stroke-width="0.6"/>
<circle cx="525.4" cy="298.8" r="2.05" fill="#0000f0" stroke="#000060" stroke-width="0.6"/>
<circle cx="483.8" cy="341.5" r="2.05" fill="#0000f0" stroke="#000060" stroke-width="0.6"/>
<circle cx="501.6" cy="344" r="2.05" fill="#0000f0" stroke="#000060" stroke-width="0.6"/>
<circle cx="500.1" cy="346" r="2.05" fill="#0000f0" stroke="#000060" stroke-width="0.6"/>
<circle cx="488.3" cy="348.7" r="2.05" fill="#0000f0" stroke="#000060" stroke-width="0.6"/>
<circle cx="476.5" cy="350.1" r="2.05" fill="#0000f0" stroke="#000060" stroke-width="0.6"/>
<circle cx="481.8" cy="357.2" r="2.05" fill="#0000f0" stroke="#000060" stroke-width="0.6"/>
<circle cx="485.3" cy="360.9" r="2.05" fill="#0000f0" stroke="#000060" stroke-width="0.6"/>
<circle cx="493.4" cy="360.5" r="2.05" fill="#0000f0" stroke="#000060" stroke-width="0.6"/>
<circle cx="478.1" cy="362.9" r="2.05" fill="#0000f0" stroke="#000060" stroke-width="0.6"/>
<circle cx="478.1" cy="366" r="2.05" fill="#0000f0" stroke="#000060" stroke-width="0.6"/>
<circle cx="482.6" cy="366" r="2.05" fill="#0000f0" stroke="#000060" stroke-width="0.6"/>
<circle cx="477.1" cy="367" r="2.05" fill="#0000f0" stroke="#000060" stroke-width="0.6"/>
<circle cx="483.8" cy="370.5" r="2.05" fill="#0000f0" stroke="#000060" stroke-width="0.6"/>
<circle cx="478.6" cy="372.1" r="2.05" fill="#0000f0" stroke="#000060" stroke-width="0.6"/>
<circle cx="477.3" cy="373.7" r="2.05" fill="#0000f0" stroke="#000060" stroke-width="0.6"/>
<circle cx="500.5" cy="376.8" r="2.05" fill="#0000f0" stroke="#000060" stroke-width="0.6"/>
<circle cx="558.5" cy="310.8" r="2.05" fill="#ff8400" stroke="#1a0c00" stroke-width="0.6"/>
<circle cx="593.6" cy="298.7" r="2.05" fill="#ff8400" stroke="#1a0c00" stroke-width="0.6"/>
<circle cx="590" cy="302.6" r="2.05" fill="#ff8400" stroke="#1a0c00" stroke-width="0.6"/>
<circle cx="595.3" cy="303.4" r="2.05" fill="#ff8400" stroke="#1a0c00" stroke-width="0.6"/>
<circle cx="584.4" cy="309.3" r="2.05" fill="#ff8400" stroke="#1a0c00" stroke-width="0.6"/>
<circle cx="586.1" cy="313.8" r="2.05" fill="#ff8400" stroke="#1a0c00" stroke-width="0.6"/>
<circle cx="603.4" cy="309.8" r="2.05" fill="#ff8400" stroke="#1a0c00" stroke-width="0.6"/>
<circle cx="610.8" cy="304.2" r="2.05" fill="#ff8400" stroke="#1a0c00" stroke-width="0.6"/>
<circle cx="615.1" cy="305.4" r="2.05" fill="#ff8400" stroke="#1a0c00" stroke-width="0.6"/>
<circle cx="616.8" cy="310.1" r="2.05" fill="#ff8400" stroke="#1a0c00" stroke-width="0.6"/>
<circle cx="617.5" cy="315.1" r="2.05" fill="#ff8400" stroke="#1a0c00" stroke-width="0.6"/>
<circle cx="620.5" cy="318.5" r="2.05" fill="#ff8400" stroke="#1a0c00" stroke-width="0.6"/>
<circle cx="620.8" cy="321.5" r="2.05" fill="#ff8400" stroke="#1a0c00" stroke-width="0.6"/>
<circle cx="610.1" cy="317.2" r="2.05" fill="#ff8400" stroke="#1a0c00" stroke-width="0.6"/>
<circle cx="579.4" cy="319.3" r="2.05" fill="#ff8400" stroke="#1a0c00" stroke-width="0.6"/>
<circle cx="581.9" cy="319.8" r="2.05" fill="#ff8400" stroke="#1a0c00" stroke-width="0.6"/>
<circle cx="595" cy="323" r="2.05" fill="#ff8400" stroke="#1a0c00" stroke-width="0.6"/>
<circle cx="600" cy="322.2" r="2.05" fill="#ff8400" stroke="#1a0c00" stroke-width="0.6"/>
<circle cx="605.1" cy="321" r="2.05" fill="#ff8400" stroke="#1a0c00" stroke-width="0.6"/>
<circle cx="607.9" cy="322.4" r="2.05" fill="#ff8400" stroke="#1a0c00" stroke-width="0.6"/>
<circle cx="606.7" cy="324.4" r="2.05" fill="#ff8400" stroke="#1a0c00" stroke-width="0.6"/>
<circle cx="614.1" cy="323.2" r="2.05" fill="#ff8400" stroke="#1a0c00" stroke-width="0.6"/>
<circle cx="611.3" cy="326.1" r="2.05" fill="#ff8400" stroke="#1a0c00" stroke-width="0.6"/>
<circle cx="620.8" cy="328.1" r="2.05" fill="#ff8400" stroke="#1a0c00" stroke-width="0.6"/>
<circle cx="623" cy="329.4" r="2.05" fill="#ff8400" stroke="#1a0c00" stroke-width="0.6"/>
<circle cx="589.4" cy="330.6" r="2.05" fill="#ff8400" stroke="#1a0c00" stroke-width="0.6"/>
<circle cx="632.8" cy="330.6" r="2.05" fill="#ff8400" stroke="#1a0c00" stroke-width="0.6"/>
<circle cx="639" cy="330.3" r="2.05" fill="#ff8400" stroke="#1a0c00" stroke-width="0.6"/>
<circle cx="624.2" cy="337.8" r="2.05" fill="#ff8400" stroke="#1a0c00" stroke-width="0.6"/>
<circle cx="630.2" cy="338.6" r="2.05" fill="#ff8400" stroke="#1a0c00" stroke-width="0.6"/>
<circle cx="623.9" cy="352.9" r="2.05" fill="#ff8400" stroke="#1a0c00" stroke-width="0.6"/>
<circle cx="623.9" cy="355.4" r="2.05" fill="#ff8400" stroke="#1a0c00" stroke-width="0.6"/>
<circle cx="639" cy="337.3" r="2.05" fill="#aa0000" stroke="#1a0000" stroke-width="0.6"/>
<circle cx="618" cy="341.2" r="2.05" fill="#aa0000" stroke="#1a0000" stroke-width="0.6"/>
<circle cx="627.6" cy="345.7" r="2.05" fill="#aa0000" stroke="#1a0000" stroke-width="0.6"/>
<circle cx="631.6" cy="345" r="2.05" fill="#aa0000" stroke="#1a0000" stroke-width="0.6"/>
<circle cx="620.5" cy="348.7" r="2.05" fill="#aa0000" stroke="#1a0000" stroke-width="0.6"/>
<circle cx="630.2" cy="351.2" r="2.05" fill="#aa0000" stroke="#1a0000" stroke-width="0.6"/>
<circle cx="632.6" cy="350.7" r="2.05" fill="#aa0000" stroke="#1a0000" stroke-width="0.6"/>
<circle cx="647" cy="353.8" r="2.05" fill="#aa0000" stroke="#1a0000" stroke-width="0.6"/>
<circle cx="640.3" cy="354.9" r="2.05" fill="#aa0000" stroke="#1a0000" stroke-width="0.6"/>
<circle cx="634.3" cy="356.8" r="2.05" fill="#aa0000" stroke="#1a0000" stroke-width="0.6"/>
<circle cx="632.3" cy="359.1" r="2.05" fill="#aa0000" stroke="#1a0000" stroke-width="0.6"/>
<circle cx="638.6" cy="358" r="2.05" fill="#aa0000" stroke="#1a0000" stroke-width="0.6"/>
<circle cx="643.7" cy="360.1" r="2.05" fill="#aa0000" stroke="#1a0000" stroke-width="0.6"/>
<circle cx="645" cy="362.5" r="2.05" fill="#aa0000" stroke="#1a0000" stroke-width="0.6"/>
<circle cx="634.3" cy="363.5" r="2.05" fill="#aa0000" stroke="#1a0000" stroke-width="0.6"/>
<circle cx="636.5" cy="364.3" r="2.05" fill="#aa0000" stroke="#1a0000" stroke-width="0.6"/>
<circle cx="638.1" cy="364.7" r="2.05" fill="#aa0000" stroke="#1a0000" stroke-width="0.6"/>
<circle cx="629.7" cy="366.3" r="2.05" fill="#aa0000" stroke="#1a0000" stroke-width="0.6"/>
<circle cx="615.1" cy="371" r="2.05" fill="#aa0000" stroke="#1a0000" stroke-width="0.6"/>
<circle cx="618.8" cy="371.9" r="2.05" fill="#aa0000" stroke="#1a0000" stroke-width="0.6"/>
<circle cx="620.5" cy="373.6" r="2.05" fill="#aa0000" stroke="#1a0000" stroke-width="0.6"/>
<circle cx="625.2" cy="370.2" r="2.05" fill="#aa0000" stroke="#1a0000" stroke-width="0.6"/>
<circle cx="630.2" cy="372.2" r="2.05" fill="#aa0000" stroke="#1a0000" stroke-width="0.6"/>
<circle cx="631.4" cy="372.6" r="2.05" fill="#aa0000" stroke="#1a0000" stroke-width="0.6"/>
<circle cx="640.6" cy="371.7" r="2.05" fill="#aa0000" stroke="#1a0000" stroke-width="0.6"/>
<circle cx="630.6" cy="377.8" r="2.05" fill="#aa0000" stroke="#1a0000" stroke-width="0.6"/>
<circle cx="609.1" cy="378.9" r="2.05" fill="#aa0000" stroke="#1a0000" stroke-width="0.6"/>
<circle cx="638.1" cy="379.8" r="2.05" fill="#aa0000" stroke="#1a0000" stroke-width="0.6"/>
<circle cx="628.9" cy="382.3" r="2.05" fill="#aa0000" stroke="#1a0000" stroke-width="0.6"/>
<circle cx="88.8" cy="238.4" r="2.2" fill="#8fbcf2" stroke="#1a2233" stroke-width="0.6"/>
<text x="100.6" y="240.9" font-size="7" text-anchor="start" font-weight="normal" fill="#1a1a1a" >Hindmilk 5 months</text>
<circle cx="88.8" cy="248.8" r="2.2" fill="#0000f0" stroke="#000060" stroke-width="0.6"/>
<text x="100.6" y="251.3" font-size="7" text-anchor="start" font-weight="normal" fill="#1a1a1a" >Hindmilk 9 months</text>
<circle cx="88.8" cy="260.3" r="2.2" fill="#ff8400" stroke="#1a0c00" stroke-width="0.6"/>
<text x="100.6" y="262.8" font-size="7" text-anchor="start" font-weight="normal" fill="#1a1a1a" >Feces 5 months</text>
<circle cx="88.8" cy="270.9" r="2.2" fill="#aa0000" stroke="#1a0000" stroke-width="0.6"/>
<text x="100.6" y="273.4" font-size="7" text-anchor="start" font-weight="normal" fill="#1a1a1a" >Feces 9 months</text>
<text x="16.8" y="502" font-size="21" text-anchor="start" font-weight="bold" fill="#000" style="stroke:none">f</text>
<text x="189.1" y="506.3" font-size="8.3" text-anchor="middle" font-weight="normal" fill="#1a1a1a" >Microbiota similarity over time</text>
<line x1="67" y1="517.3" x2="67" y2="580.05" stroke="#161616" stroke-width="1.3" />
<line x1="66.35" y1="579.4" x2="306.8" y2="579.4" stroke="#161616" stroke-width="1.3" />
<line x1="62.1" y1="526.5" x2="67" y2="526.5" stroke="#161616" stroke-width="1.2" />
<text x="61.6" y="529.0" font-size="7" text-anchor="end" font-weight="normal" fill="#1a1a1a" >Between individuals</text>
<line x1="62.1" y1="539.5" x2="67" y2="539.5" stroke="#161616" stroke-width="1.2" />
<text x="61.6" y="542.0" font-size="7" text-anchor="end" font-weight="normal" fill="#1a1a1a" >Within individuals</text>
<line x1="62.1" y1="557.5" x2="67" y2="557.5" stroke="#161616" stroke-width="1.2" />
<text x="61.6" y="560.0" font-size="7" text-anchor="end" font-weight="normal" fill="#1a1a1a" >Between individuals</text>
<line x1="62.1" y1="570.6" x2="67" y2="570.6" stroke="#161616" stroke-width="1.2" />
<text x="61.6" y="573.1" font-size="7" text-anchor="end" font-weight="normal" fill="#1a1a1a" >Within individuals</text>
<line x1="67" y1="579.4" x2="67" y2="583.4" stroke="#161616" stroke-width="1.2" />
<text x="69.8" y="591.1" font-size="7.8" text-anchor="end" fill="#1a1a1a" transform="rotate(-45 69.8 591.1)">0.0</text>
<line x1="140.7" y1="579.4" x2="140.7" y2="583.4" stroke="#161616" stroke-width="1.2" />
<text x="143.5" y="591.1" font-size="7.8" text-anchor="end" fill="#1a1a1a" transform="rotate(-45 143.5 591.1)">0.2</text>
<line x1="214.3" y1="579.4" x2="214.3" y2="583.4" stroke="#161616" stroke-width="1.2" />
<text x="217.1" y="591.1" font-size="7.8" text-anchor="end" fill="#1a1a1a" transform="rotate(-45 217.1 591.1)">0.4</text>
<line x1="288" y1="579.4" x2="288" y2="583.4" stroke="#161616" stroke-width="1.2" />
<text x="290.8" y="591.1" font-size="7.8" text-anchor="end" fill="#1a1a1a" transform="rotate(-45 290.8 591.1)">0.6</text>
<line x1="80.5" y1="526.4" x2="114.5" y2="526.4" stroke="#161616" stroke-width="1.2" />
<line x1="138.5" y1="526.4" x2="189.7" y2="526.4" stroke="#161616" stroke-width="1.2" />
<line x1="80.5" y1="524.2" x2="80.5" y2="528.6" stroke="#161616" stroke-width="1.2" />
<line x1="189.7" y1="524.2" x2="189.7" y2="528.6" stroke="#161616" stroke-width="1.2" />
<rect x="114.5" y="522.4" width="24.0" height="8.0" fill="#9b6421" stroke="#1a1a1a" stroke-width="1.2"/>
<line x1="126.5" y1="522.4" x2="126.5" y2="530.4" stroke="#161616" stroke-width="1.2" />
<line x1="104.5" y1="539.6" x2="136.5" y2="539.6" stroke="#161616" stroke-width="1.2" />
<line x1="169.5" y1="539.6" x2="246.4" y2="539.6" stroke="#161616" stroke-width="1.2" />
<line x1="104.5" y1="537.4" x2="104.5" y2="541.8" stroke="#161616" stroke-width="1.2" />
<line x1="246.4" y1="537.4" x2="246.4" y2="541.8" stroke="#161616" stroke-width="1.2" />
<rect x="136.5" y="535.8" width="33.0" height="7.6" fill="#c86400" stroke="#1a1a1a" stroke-width="1.2"/>
<line x1="153.6" y1="535.8" x2="153.6" y2="543.4" stroke="#161616" stroke-width="1.2" />
<line x1="77.5" y1="557.5" x2="145.5" y2="557.5" stroke="#161616" stroke-width="1.2" />
<line x1="174.9" y1="557.5" x2="228.4" y2="557.5" stroke="#161616" stroke-width="1.2" />
<line x1="77.5" y1="555.3" x2="77.5" y2="559.7" stroke="#161616" stroke-width="1.2" />
<line x1="228.4" y1="555.3" x2="228.4" y2="559.7" stroke="#161616" stroke-width="1.2" />
<rect x="145.5" y="553.6" width="29.4" height="7.7" fill="#5454f5" stroke="#1a1a1a" stroke-width="1.2"/>
<line x1="162.7" y1="553.6" x2="162.7" y2="561.3" stroke="#161616" stroke-width="1.2" />
<line x1="145.5" y1="570.6" x2="167.9" y2="570.6" stroke="#161616" stroke-width="1.2" />
<line x1="206.7" y1="570.6" x2="230.5" y2="570.6" stroke="#161616" stroke-width="1.2" />
<line x1="145.5" y1="568.4" x2="145.5" y2="572.8" stroke="#161616" stroke-width="1.2" />
<line x1="230.5" y1="568.4" x2="230.5" y2="572.8" stroke="#161616" stroke-width="1.2" />
<rect x="167.9" y="566.8" width="38.8" height="7.6" fill="#9191ff" stroke="#1a1a1a" stroke-width="1.2"/>
<line x1="189.7" y1="566.8" x2="189.7" y2="574.4" stroke="#161616" stroke-width="1.2" />
<path d="M262.1 524.1 H267.9 V540.3 H262.1" fill="none" stroke="#262626" stroke-width="1.3"/>
<path d="M271.2 556.4 H276.8 V572.5 H271.2" fill="none" stroke="#262626" stroke-width="1.3"/>
<text x="269.1" y="533.2" font-size="7" text-anchor="middle" font-weight="bold" fill="#1a1a1a" transform="rotate(90 269.1 533.2)" letter-spacing="1.1" style="stroke:none">****</text>
<text x="278.5" y="565.3" font-size="7" text-anchor="middle" font-weight="bold" fill="#1a1a1a" transform="rotate(90 278.5 565.3)" letter-spacing="1.1" style="stroke:none">****</text>
<text x="186.9" y="610.1" font-size="8.4" text-anchor="middle" font-weight="normal" fill="#1a1a1a" >Jaccard Similarity Index</text>
<line x1="67" y1="622.8" x2="302" y2="622.8" stroke="#111" stroke-width="1.4" />
<path d="M61.4 622.8 L68.9 620 L68.9 625.6 Z" fill="#111"/>
<path d="M307.6 622.8 L300.2 620 L300.2 625.6 Z" fill="#111"/>
<text x="62.6" y="637.4" font-size="8.2" text-anchor="start" font-weight="normal" fill="#1a1a1a" >Less similar</text>
<text x="307.6" y="638.5" font-size="8.2" text-anchor="end" font-weight="normal" fill="#1a1a1a" >More similar</text>
<rect x="317.6" y="527.2" width="9.8" height="3.9" fill="#9b6421" stroke="#1a1a1a" stroke-width="1"/>
<text x="334.3" y="532" font-size="8.3" text-anchor="start" font-weight="normal" fill="#1a1a1a" >Feces, between individuals, 5 vs 9 months</text>
<rect x="317.6" y="540.6" width="9.8" height="3.8" fill="#c86400" stroke="#1a1a1a" stroke-width="1"/>
<text x="334.3" y="545.4" font-size="8.3" text-anchor="start" font-weight="normal" fill="#1a1a1a" >Feces, within individuals, 5 vs 9 months</text>
<rect x="317.6" y="555.5" width="9.8" height="3.8" fill="#5454f5" stroke="#1a1a1a" stroke-width="1"/>
<text x="334.3" y="560.1" font-size="8.3" text-anchor="start" font-weight="normal" fill="#1a1a1a" >Hindmilk, between individuals, 5 vs 9 months</text>
<rect x="317.6" y="568.7" width="9.8" height="3.8" fill="#9191ff" stroke="#1a1a1a" stroke-width="1"/>
<text x="334.3" y="573.3" font-size="8.3" text-anchor="start" font-weight="normal" fill="#1a1a1a" >Hindmilk, within individuals, 5 vs 9 months</text>
</svg></body></html>
